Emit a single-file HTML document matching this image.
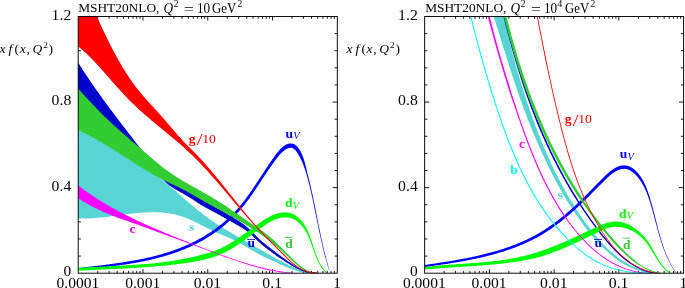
<!DOCTYPE html>
<html><head><meta charset="utf-8"><title>MSHT20NLO PDFs</title>
<style>
html,body{margin:0;padding:0;background:#fff;}
body{width:685px;height:288px;overflow:hidden;}
svg{display:block;font-family:"Liberation Serif",serif;will-change:transform;}
</style></head><body>
<svg width="685" height="288" viewBox="0 0 685 288">
<rect width="685" height="288" fill="#fff"/>
<defs>
<clipPath id="c1"><rect x="78.20" y="16.50" width="259.10" height="256.70"/></clipPath>
<clipPath id="c2"><rect x="424.65" y="16.50" width="258.95" height="256.70"/></clipPath>
</defs>
<path d="M97.70 16.50v2.3M97.70 273.20v-2.3M109.11 16.50v2.3M109.11 273.20v-2.3M117.20 16.50v2.3M117.20 273.20v-2.3M123.48 16.50v2.3M123.48 273.20v-2.3M128.60 16.50v2.3M128.60 273.20v-2.3M132.94 16.50v2.3M132.94 273.20v-2.3M136.70 16.50v2.3M136.70 273.20v-2.3M140.01 16.50v2.3M140.01 273.20v-2.3M142.98 16.50v4.0M142.98 273.20v-4.0M162.47 16.50v2.3M162.47 273.20v-2.3M173.88 16.50v2.3M173.88 273.20v-2.3M181.97 16.50v2.3M181.97 273.20v-2.3M188.25 16.50v2.3M188.25 273.20v-2.3M193.38 16.50v2.3M193.38 273.20v-2.3M197.72 16.50v2.3M197.72 273.20v-2.3M201.47 16.50v2.3M201.47 273.20v-2.3M204.79 16.50v2.3M204.79 273.20v-2.3M207.75 16.50v4.0M207.75 273.20v-4.0M227.25 16.50v2.3M227.25 273.20v-2.3M238.66 16.50v2.3M238.66 273.20v-2.3M246.75 16.50v2.3M246.75 273.20v-2.3M253.03 16.50v2.3M253.03 273.20v-2.3M258.15 16.50v2.3M258.15 273.20v-2.3M262.49 16.50v2.3M262.49 273.20v-2.3M266.25 16.50v2.3M266.25 273.20v-2.3M269.56 16.50v2.3M269.56 273.20v-2.3M272.53 16.50v4.0M272.53 273.20v-4.0M292.02 16.50v2.3M292.02 273.20v-2.3M303.43 16.50v2.3M303.43 273.20v-2.3M311.52 16.50v2.3M311.52 273.20v-2.3M317.80 16.50v2.3M317.80 273.20v-2.3M322.93 16.50v2.3M322.93 273.20v-2.3M327.27 16.50v2.3M327.27 273.20v-2.3M331.02 16.50v2.3M331.02 273.20v-2.3M334.34 16.50v2.3M334.34 273.20v-2.3M78.20 256.09h2.7M337.30 256.09h-2.7M78.20 238.97h2.7M337.30 238.97h-2.7M78.20 221.86h2.7M337.30 221.86h-2.7M78.20 204.75h2.7M337.30 204.75h-2.7M78.20 187.63h4.6M337.30 187.63h-4.6M78.20 170.52h2.7M337.30 170.52h-2.7M78.20 153.41h2.7M337.30 153.41h-2.7M78.20 136.29h2.7M337.30 136.29h-2.7M78.20 119.18h2.7M337.30 119.18h-2.7M78.20 102.07h4.6M337.30 102.07h-4.6M78.20 84.95h2.7M337.30 84.95h-2.7M78.20 67.84h2.7M337.30 67.84h-2.7M78.20 50.73h2.7M337.30 50.73h-2.7M78.20 33.61h2.7M337.30 33.61h-2.7" stroke="#000" stroke-width="0.9" fill="none"/>
<path d="M444.14 16.50v2.3M444.14 273.20v-2.3M455.54 16.50v2.3M455.54 273.20v-2.3M463.63 16.50v2.3M463.63 273.20v-2.3M469.90 16.50v2.3M469.90 273.20v-2.3M475.03 16.50v2.3M475.03 273.20v-2.3M479.36 16.50v2.3M479.36 273.20v-2.3M483.11 16.50v2.3M483.11 273.20v-2.3M486.43 16.50v2.3M486.43 273.20v-2.3M489.39 16.50v4.0M489.39 273.20v-4.0M508.88 16.50v2.3M508.88 273.20v-2.3M520.28 16.50v2.3M520.28 273.20v-2.3M528.36 16.50v2.3M528.36 273.20v-2.3M534.64 16.50v2.3M534.64 273.20v-2.3M539.76 16.50v2.3M539.76 273.20v-2.3M544.10 16.50v2.3M544.10 273.20v-2.3M547.85 16.50v2.3M547.85 273.20v-2.3M551.16 16.50v2.3M551.16 273.20v-2.3M554.12 16.50v4.0M554.12 273.20v-4.0M573.61 16.50v2.3M573.61 273.20v-2.3M585.01 16.50v2.3M585.01 273.20v-2.3M593.10 16.50v2.3M593.10 273.20v-2.3M599.37 16.50v2.3M599.37 273.20v-2.3M604.50 16.50v2.3M604.50 273.20v-2.3M608.83 16.50v2.3M608.83 273.20v-2.3M612.59 16.50v2.3M612.59 273.20v-2.3M615.90 16.50v2.3M615.90 273.20v-2.3M618.86 16.50v4.0M618.86 273.20v-4.0M638.35 16.50v2.3M638.35 273.20v-2.3M649.75 16.50v2.3M649.75 273.20v-2.3M657.84 16.50v2.3M657.84 273.20v-2.3M664.11 16.50v2.3M664.11 273.20v-2.3M669.24 16.50v2.3M669.24 273.20v-2.3M673.57 16.50v2.3M673.57 273.20v-2.3M677.33 16.50v2.3M677.33 273.20v-2.3M680.64 16.50v2.3M680.64 273.20v-2.3M424.65 256.09h2.7M683.60 256.09h-2.7M424.65 238.97h2.7M683.60 238.97h-2.7M424.65 221.86h2.7M683.60 221.86h-2.7M424.65 204.75h2.7M683.60 204.75h-2.7M424.65 187.63h4.6M683.60 187.63h-4.6M424.65 170.52h2.7M683.60 170.52h-2.7M424.65 153.41h2.7M683.60 153.41h-2.7M424.65 136.29h2.7M683.60 136.29h-2.7M424.65 119.18h2.7M683.60 119.18h-2.7M424.65 102.07h4.6M683.60 102.07h-4.6M424.65 84.95h2.7M683.60 84.95h-2.7M424.65 67.84h2.7M683.60 67.84h-2.7M424.65 50.73h2.7M683.60 50.73h-2.7M424.65 33.61h2.7M683.60 33.61h-2.7" stroke="#000" stroke-width="0.9" fill="none"/>
<g clip-path="url(#c1)">
<polygon fill="#59d4d4" points="78.0,125.0 79.5,125.7 81.0,126.4 82.5,127.1 84.0,127.8 85.5,128.6 87.0,129.3 88.5,130.1 90.0,130.9 91.5,131.7 93.0,132.5 94.5,133.3 96.0,134.2 97.5,135.0 99.0,135.9 100.5,136.8 102.0,137.7 103.5,138.6 105.0,139.5 106.5,140.4 108.0,141.3 109.5,142.2 111.0,143.1 112.5,144.1 114.0,145.0 115.5,146.0 117.0,146.9 118.5,147.9 120.0,148.8 121.5,149.8 123.0,150.7 124.5,151.7 126.0,152.6 127.5,153.6 129.0,154.5 130.5,155.5 132.0,156.4 133.5,157.4 135.0,158.4 136.5,159.4 138.0,160.4 139.5,161.4 141.0,162.5 142.5,163.6 144.0,164.7 145.5,165.8 147.0,167.0 148.5,168.2 150.0,169.4 151.5,170.7 153.0,171.9 154.5,173.2 156.0,174.5 157.5,175.7 159.0,177.0 160.5,178.3 162.0,179.6 163.5,180.8 165.0,182.1 166.5,183.4 168.0,184.6 169.5,185.9 171.0,187.2 172.5,188.5 174.0,189.8 175.5,191.1 177.0,192.4 178.5,193.7 180.0,195.0 181.5,196.3 183.0,197.6 184.5,198.9 186.0,200.2 187.5,201.5 189.0,202.8 190.5,204.0 192.0,205.3 193.5,206.6 195.0,207.8 196.5,209.0 198.0,210.2 199.5,211.4 201.0,212.6 202.5,213.8 204.0,214.9 205.5,216.0 207.0,217.1 208.5,218.2 210.0,219.3 211.5,220.3 213.0,221.3 214.5,222.4 216.0,223.4 217.5,224.4 219.0,225.4 220.5,226.3 222.0,227.3 223.5,228.2 225.0,229.2 226.5,230.1 228.0,231.0 229.5,231.9 231.0,232.8 232.5,233.7 234.0,234.6 235.5,235.5 237.0,236.3 238.5,237.2 240.0,238.1 241.5,238.9 243.0,239.8 244.5,240.6 246.0,241.5 247.5,242.3 249.0,243.2 250.5,244.0 252.0,244.8 253.5,245.7 255.0,246.5 256.5,247.4 258.0,248.2 259.5,249.1 261.0,249.9 262.5,250.8 264.0,251.6 265.5,252.5 267.0,253.3 268.5,254.2 270.0,255.0 271.5,255.9 273.0,256.7 274.5,257.6 276.0,258.4 277.5,259.2 279.0,260.0 280.5,260.8 282.0,261.6 283.5,262.4 285.0,263.2 286.5,263.9 288.0,264.7 289.5,265.4 291.0,266.1 292.5,266.8 294.0,267.5 295.5,268.1 297.0,268.8 298.5,269.4 300.0,270.0 301.5,270.6 303.0,271.1 304.5,271.6 306.0,272.1 307.5,272.6 308.3,272.9 308.3,273.2 307.5,273.2 306.0,273.0 304.5,272.8 303.0,272.6 301.5,272.3 300.0,271.9 298.5,271.5 297.0,271.1 295.5,270.6 294.0,270.1 292.5,269.5 291.0,268.9 289.5,268.3 288.0,267.7 286.5,267.1 285.0,266.4 283.5,265.7 282.0,265.1 280.5,264.4 279.0,263.7 277.5,263.0 276.0,262.3 274.5,261.6 273.0,260.9 271.5,260.2 270.0,259.5 268.5,258.9 267.0,258.2 265.5,257.5 264.0,256.7 262.5,256.0 261.0,255.2 259.5,254.5 258.0,253.7 256.5,252.8 255.0,252.0 253.5,251.1 252.0,250.3 250.5,249.4 249.0,248.5 247.5,247.6 246.0,246.7 244.5,245.9 243.0,245.0 241.5,244.1 240.0,243.3 238.5,242.5 237.0,241.7 235.5,240.9 234.0,240.1 232.5,239.4 231.0,238.7 229.5,238.0 228.0,237.3 226.5,236.7 225.0,236.0 223.5,235.4 222.0,234.8 220.5,234.2 219.0,233.5 217.5,232.9 216.0,232.2 214.5,231.6 213.0,230.9 211.5,230.2 210.0,229.5 208.5,228.7 207.0,228.0 205.5,227.2 204.0,226.4 202.5,225.7 201.0,224.9 199.5,224.1 198.0,223.4 196.5,222.6 195.0,221.9 193.5,221.1 192.0,220.4 190.5,219.7 189.0,219.1 187.5,218.5 186.0,217.9 184.5,217.3 183.0,216.8 181.5,216.3 180.0,215.8 178.5,215.4 177.0,215.0 175.5,214.6 174.0,214.3 172.5,214.0 171.0,213.7 169.5,213.5 168.0,213.2 166.5,213.0 165.0,212.8 163.5,212.7 162.0,212.6 160.5,212.4 159.0,212.4 157.5,212.3 156.0,212.2 154.5,212.2 153.0,212.2 151.5,212.2 150.0,212.2 148.5,212.3 147.0,212.3 145.5,212.4 144.0,212.5 142.5,212.6 141.0,212.7 139.5,212.8 138.0,212.9 136.5,213.1 135.0,213.2 133.5,213.4 132.0,213.6 130.5,213.7 129.0,213.9 127.5,214.1 126.0,214.3 124.5,214.5 123.0,214.7 121.5,214.9 120.0,215.1 118.5,215.3 117.0,215.5 115.5,215.7 114.0,215.9 112.5,216.1 111.0,216.3 109.5,216.5 108.0,216.7 106.5,216.9 105.0,217.1 103.5,217.2 102.0,217.4 100.5,217.6 99.0,217.7 97.5,217.8 96.0,218.0 94.5,218.1 93.0,218.2 91.5,218.3 90.0,218.4 88.5,218.4 87.0,218.5 85.5,218.5 84.0,218.5 82.5,218.5 81.0,218.5 79.5,218.5 78.0,218.4"/>
<polygon fill="#0000ff" points="78.1,269.8 79.1,269.7 80.1,269.6 81.1,269.5 82.1,269.4 83.1,269.3 84.0,269.2 85.0,269.1 86.0,269.0 87.0,268.9 88.0,268.8 89.0,268.7 90.0,268.6 91.0,268.5 92.0,268.4 93.0,268.3 93.9,268.2 94.9,268.1 95.9,268.0 96.9,267.9 97.9,267.8 98.9,267.7 99.9,267.6 100.9,267.5 101.9,267.4 102.9,267.3 103.9,267.2 104.9,267.1 105.9,267.0 106.9,266.8 107.9,266.7 108.9,266.6 109.9,266.5 110.9,266.4 111.9,266.2 112.9,266.1 113.9,266.0 114.9,265.9 115.9,265.8 116.9,265.6 117.9,265.5 118.9,265.4 119.9,265.2 120.9,265.1 121.9,264.9 122.9,264.8 123.9,264.7 124.9,264.5 125.9,264.4 126.9,264.2 127.8,264.1 128.8,263.9 129.8,263.7 130.8,263.6 131.8,263.4 132.8,263.2 133.8,263.1 134.8,262.9 135.8,262.7 136.8,262.5 137.8,262.4 138.8,262.2 139.8,262.0 140.8,261.8 141.7,261.6 142.7,261.4 143.7,261.2 144.7,261.0 145.7,260.8 146.7,260.6 147.7,260.4 148.6,260.2 149.6,259.9 150.6,259.7 151.6,259.5 152.6,259.3 153.5,259.0 154.5,258.8 155.5,258.5 156.5,258.3 157.4,258.1 158.4,257.8 159.4,257.5 160.3,257.3 161.3,257.0 162.3,256.8 163.2,256.5 164.2,256.2 165.2,255.9 166.1,255.6 167.1,255.4 168.0,255.1 169.0,254.8 170.0,254.5 170.9,254.2 171.9,253.8 172.8,253.5 173.8,253.2 174.7,252.9 175.6,252.5 176.6,252.2 177.5,251.9 178.5,251.5 179.4,251.2 180.3,250.8 181.3,250.5 182.2,250.1 183.1,249.7 184.1,249.4 185.0,249.0 185.9,248.6 186.8,248.2 187.8,247.8 188.7,247.4 189.6,247.0 190.5,246.6 191.4,246.2 192.3,245.8 193.3,245.3 194.2,244.9 195.1,244.5 196.0,244.0 196.9,243.5 197.8,243.1 198.6,242.6 199.5,242.1 200.4,241.7 201.3,241.2 202.2,240.7 203.1,240.2 203.9,239.7 204.8,239.2 205.7,238.7 206.6,238.1 207.4,237.6 208.3,237.1 209.1,236.5 210.0,236.0 210.9,235.4 211.7,234.9 212.6,234.3 213.4,233.7 214.2,233.1 215.1,232.6 215.9,232.0 216.7,231.4 217.6,230.8 218.4,230.2 219.2,229.6 220.0,228.9 220.8,228.3 221.6,227.7 222.4,227.0 223.2,226.4 224.0,225.8 224.8,225.1 225.6,224.4 226.3,223.8 227.1,223.1 227.9,222.4 228.6,221.7 229.4,221.1 230.1,220.4 230.8,219.7 231.6,219.0 232.3,218.3 233.0,217.6 233.7,216.9 234.5,216.2 235.2,215.4 235.9,214.7 236.6,214.0 237.2,213.3 237.9,212.5 238.6,211.8 239.3,211.0 239.9,210.3 240.6,209.5 241.2,208.8 241.8,208.0 242.5,207.3 243.1,206.5 243.7,205.7 244.3,205.0 244.9,204.2 245.5,203.4 246.1,202.6 246.7,201.8 247.3,201.0 247.9,200.3 248.5,199.5 249.1,198.7 249.7,197.9 250.2,197.1 250.8,196.3 251.4,195.5 252.0,194.7 252.5,193.9 253.1,193.0 253.6,192.2 254.2,191.4 254.8,190.6 255.3,189.8 255.9,188.9 256.4,188.1 257.0,187.3 257.5,186.5 258.1,185.6 258.6,184.8 259.2,184.0 259.7,183.1 260.3,182.3 260.8,181.5 261.4,180.6 261.9,179.8 262.5,178.9 263.0,178.1 263.6,177.3 264.1,176.4 264.7,175.6 265.3,174.7 265.8,173.9 266.4,173.0 267.0,172.2 267.5,171.3 268.1,170.5 268.7,169.6 269.3,168.8 269.9,167.9 270.4,167.1 271.0,166.2 271.6,165.4 272.2,164.5 272.9,163.7 273.5,162.8 274.1,162.0 274.7,161.1 275.3,160.3 276.0,159.4 276.6,158.6 277.3,157.8 277.9,156.9 278.6,156.1 279.2,155.3 279.9,154.6 280.6,153.8 281.3,153.1 282.0,152.4 282.7,151.8 283.4,151.2 284.1,150.6 284.8,150.1 285.5,149.6 286.2,149.2 286.9,148.8 287.6,148.5 288.2,148.2 288.9,148.0 289.5,147.9 290.1,147.8 290.7,147.8 291.2,147.8 291.7,147.8 292.2,148.0 292.8,148.2 293.3,148.5 293.9,148.9 294.5,149.4 295.1,150.0 295.8,150.6 296.4,151.4 296.9,152.2 297.5,153.1 298.1,154.0 298.6,154.9 299.1,155.8 299.6,156.7 300.1,157.7 300.6,158.6 301.0,159.5 301.5,160.4 301.9,161.4 302.3,162.3 302.7,163.2 303.0,164.1 303.4,165.1 303.7,166.0 304.1,166.9 304.4,167.9 304.7,168.8 305.0,169.7 305.4,170.7 305.7,171.6 306.0,172.6 306.3,173.5 306.6,174.5 306.8,175.4 307.1,176.4 307.4,177.3 307.6,178.3 307.9,179.2 308.1,180.2 308.4,181.2 308.6,182.1 308.9,183.1 309.1,184.1 309.4,185.0 309.6,186.0 309.8,187.0 310.1,187.9 310.3,188.9 310.5,189.9 310.7,190.8 311.0,191.8 311.2,192.8 311.4,193.8 311.6,194.7 311.8,195.7 312.1,196.7 312.3,197.6 312.5,198.6 312.7,199.6 312.9,200.6 313.1,201.5 313.3,202.5 313.5,203.5 313.7,204.5 313.9,205.5 314.1,206.4 314.3,207.4 314.5,208.4 314.7,209.4 314.9,210.4 315.1,211.3 315.3,212.3 315.5,213.3 315.7,214.3 315.9,215.3 316.1,216.2 316.3,217.2 316.5,218.2 316.7,219.2 316.9,220.2 317.1,221.1 317.3,222.1 317.5,223.1 317.7,224.1 317.9,225.1 318.1,226.0 318.3,227.0 318.5,228.0 318.7,229.0 318.9,230.0 319.1,230.9 319.3,231.9 319.6,232.9 319.8,233.9 320.0,234.9 320.2,235.8 320.4,236.8 320.6,237.8 320.8,238.8 321.0,239.7 321.3,240.7 321.5,241.7 321.7,242.7 321.9,243.6 322.2,244.6 322.4,245.6 322.6,246.6 322.8,247.5 323.1,248.5 323.3,249.5 323.6,250.5 323.8,251.4 324.0,252.4 324.3,253.4 324.5,254.3 324.8,255.3 325.0,256.3 325.3,257.2 325.6,258.2 325.8,259.2 326.1,260.1 326.4,261.1 326.6,262.0 326.9,263.0 327.2,264.0 327.5,264.9 327.8,265.9 328.1,266.8 328.4,267.8 328.7,268.7 329.0,269.7 329.1,270.1 329.4,270.0 329.3,269.6 329.0,268.6 328.7,267.7 328.5,266.7 328.2,265.8 327.9,264.8 327.6,263.8 327.4,262.9 327.1,261.9 326.8,261.0 326.6,260.0 326.3,259.0 326.1,258.1 325.8,257.1 325.6,256.1 325.3,255.2 325.1,254.2 324.8,253.2 324.6,252.3 324.3,251.3 324.1,250.3 323.9,249.3 323.6,248.4 323.4,247.4 323.2,246.4 323.0,245.5 322.7,244.5 322.5,243.5 322.3,242.5 322.1,241.6 321.9,240.6 321.6,239.6 321.4,238.6 321.2,237.7 321.0,236.7 320.8,235.7 320.6,234.7 320.4,233.7 320.2,232.8 320.0,231.8 319.8,230.8 319.6,229.8 319.4,228.8 319.2,227.9 319.0,226.9 318.8,225.9 318.6,224.9 318.4,223.9 318.2,223.0 318.0,222.0 317.8,221.0 317.6,220.0 317.4,219.0 317.2,218.1 317.0,217.1 316.8,216.1 316.6,215.1 316.5,214.1 316.3,213.1 316.1,212.2 315.9,211.2 315.7,210.2 315.5,209.2 315.3,208.2 315.1,207.3 314.9,206.3 314.7,205.3 314.5,204.3 314.3,203.3 314.1,202.4 313.9,201.4 313.7,200.4 313.5,199.4 313.3,198.5 313.1,197.5 312.9,196.5 312.7,195.5 312.5,194.5 312.3,193.6 312.0,192.6 311.8,191.6 311.6,190.6 311.4,189.7 311.2,188.7 311.0,187.7 310.7,186.7 310.5,185.8 310.3,184.8 310.1,183.8 309.8,182.9 309.6,181.9 309.4,180.9 309.1,180.0 308.9,179.0 308.6,178.0 308.4,177.1 308.2,176.1 307.9,175.1 307.7,174.2 307.4,173.2 307.2,172.2 307.0,171.2 306.7,170.3 306.5,169.3 306.3,168.3 306.0,167.4 305.8,166.4 305.5,165.4 305.3,164.5 305.0,163.5 304.8,162.5 304.5,161.5 304.2,160.5 303.9,159.5 303.5,158.5 303.2,157.5 302.8,156.5 302.4,155.5 302.0,154.4 301.5,153.4 301.0,152.4 300.5,151.3 299.9,150.3 299.3,149.3 298.6,148.4 298.0,147.5 297.3,146.7 296.5,145.9 295.7,145.2 294.8,144.5 293.8,144.0 292.7,143.7 291.7,143.5 290.6,143.4 289.6,143.5 288.6,143.7 287.6,144.0 286.7,144.3 285.8,144.8 284.9,145.3 284.0,145.9 283.2,146.5 282.4,147.1 281.7,147.8 280.9,148.5 280.2,149.3 279.5,150.0 278.8,150.8 278.1,151.6 277.4,152.5 276.7,153.3 276.1,154.2 275.4,155.0 274.8,155.9 274.2,156.8 273.5,157.7 272.9,158.5 272.3,159.4 271.7,160.3 271.1,161.2 270.5,162.0 269.9,162.9 269.3,163.8 268.7,164.6 268.1,165.5 267.5,166.4 267.0,167.2 266.4,168.1 265.8,168.9 265.2,169.8 264.7,170.7 264.1,171.5 263.6,172.4 263.0,173.2 262.4,174.1 261.9,174.9 261.3,175.8 260.8,176.6 260.2,177.5 259.7,178.3 259.1,179.1 258.6,180.0 258.0,180.8 257.5,181.7 256.9,182.5 256.4,183.3 255.8,184.2 255.3,185.0 254.7,185.8 254.2,186.6 253.6,187.4 253.1,188.3 252.5,189.1 252.0,189.9 251.4,190.7 250.9,191.5 250.3,192.3 249.7,193.1 249.2,193.9 248.6,194.7 248.1,195.5 247.5,196.3 246.9,197.1 246.3,197.9 245.8,198.6 245.2,199.4 244.6,200.2 244.0,201.0 243.4,201.7 242.8,202.5 242.2,203.3 241.6,204.0 241.0,204.8 240.3,205.5 239.7,206.2 239.1,207.0 238.5,207.7 237.8,208.5 237.2,209.2 236.5,209.9 235.9,210.6 235.2,211.4 234.5,212.1 233.8,212.8 233.2,213.5 232.5,214.2 231.8,214.9 231.1,215.6 230.4,216.3 229.6,217.0 228.9,217.6 228.2,218.3 227.5,219.0 226.7,219.6 226.0,220.3 225.2,221.0 224.5,221.6 223.7,222.2 222.9,222.9 222.2,223.5 221.4,224.2 220.6,224.8 219.8,225.4 219.0,226.0 218.2,226.6 217.4,227.2 216.6,227.8 215.8,228.4 215.0,229.0 214.2,229.6 213.4,230.2 212.6,230.8 211.8,231.3 210.9,231.9 210.1,232.5 209.3,233.0 208.4,233.5 207.6,234.1 206.7,234.6 205.9,235.1 205.1,235.7 204.2,236.2 203.3,236.7 202.5,237.2 201.6,237.7 200.8,238.2 199.9,238.6 199.0,239.1 198.2,239.6 197.3,240.1 196.4,240.5 195.5,241.0 194.7,241.4 193.8,241.9 192.9,242.3 192.0,242.7 191.1,243.1 190.2,243.6 189.3,244.0 188.4,244.4 187.5,244.8 186.6,245.2 185.7,245.6 184.8,246.0 183.9,246.4 183.0,246.8 182.1,247.1 181.2,247.5 180.3,247.9 179.3,248.2 178.4,248.6 177.5,248.9 176.6,249.3 175.7,249.6 174.7,249.9 173.8,250.3 172.9,250.6 171.9,250.9 171.0,251.2 170.1,251.5 169.1,251.9 168.2,252.2 167.2,252.5 166.3,252.8 165.3,253.0 164.4,253.3 163.4,253.6 162.5,253.9 161.5,254.2 160.6,254.4 159.6,254.7 158.7,255.0 157.7,255.2 156.8,255.5 155.8,255.7 154.8,256.0 153.9,256.2 152.9,256.5 151.9,256.7 151.0,256.9 150.0,257.2 149.0,257.4 148.1,257.6 147.1,257.8 146.1,258.0 145.1,258.3 144.2,258.5 143.2,258.7 142.2,258.9 141.2,259.1 140.3,259.3 139.3,259.5 138.3,259.7 137.3,259.8 136.3,260.0 135.3,260.2 134.4,260.4 133.4,260.6 132.4,260.7 131.4,260.9 130.4,261.1 129.4,261.3 128.4,261.4 127.5,261.6 126.5,261.7 125.5,261.9 124.5,262.1 123.5,262.2 122.5,262.4 121.5,262.5 120.5,262.7 119.5,262.8 118.5,263.0 117.5,263.1 116.6,263.3 115.6,263.4 114.6,263.6 113.6,263.7 112.6,263.8 111.6,264.0 110.6,264.1 109.6,264.3 108.6,264.4 107.6,264.5 106.6,264.6 105.6,264.8 104.6,264.9 103.6,265.0 102.6,265.2 101.7,265.3 100.7,265.4 99.7,265.5 98.7,265.6 97.7,265.8 96.7,265.9 95.7,266.0 94.7,266.1 93.7,266.2 92.7,266.3 91.7,266.5 90.8,266.6 89.8,266.7 88.8,266.8 87.8,266.9 86.8,267.0 85.8,267.1 84.8,267.3 83.8,267.4 82.9,267.5 81.9,267.6 80.9,267.7 79.9,267.8 78.9,267.9 78.0,268.0"/>
<polygon fill="#0000cd" points="78.0,62.4 79.5,64.8 81.0,67.1 82.5,69.4 84.0,71.7 85.5,74.0 87.0,76.3 88.5,78.5 90.0,80.7 91.5,82.9 93.0,85.1 94.5,87.3 96.0,89.4 97.5,91.5 99.0,93.6 100.5,95.7 102.0,97.8 103.5,99.9 105.0,101.9 106.5,104.0 108.0,106.0 109.5,108.1 111.0,110.1 112.5,112.1 114.0,114.1 115.5,116.1 117.0,118.0 118.5,120.0 120.0,122.0 121.5,123.9 123.0,125.9 124.5,127.8 126.0,129.8 127.5,131.7 129.0,133.7 130.5,135.6 132.0,137.6 133.5,139.5 135.0,141.4 136.5,143.4 138.0,145.3 139.5,147.2 141.0,149.0 142.5,150.9 144.0,152.7 145.5,154.5 147.0,156.3 148.5,158.0 150.0,159.7 151.5,161.4 153.0,163.0 154.5,164.6 156.0,166.1 157.5,167.6 159.0,169.0 160.5,170.4 162.0,171.7 163.5,172.9 165.0,174.1 166.5,175.2 168.0,176.3 169.5,177.4 171.0,178.4 172.5,179.3 174.0,180.3 175.5,181.2 177.0,182.1 178.5,183.0 180.0,183.9 181.5,184.7 183.0,185.6 184.5,186.4 186.0,187.3 187.5,188.2 189.0,189.1 190.5,190.0 192.0,191.0 193.5,191.9 195.0,192.9 196.5,193.8 198.0,194.8 199.5,195.8 201.0,196.8 202.5,197.8 204.0,198.8 205.5,199.8 207.0,200.8 208.5,201.8 210.0,202.8 211.5,203.8 213.0,204.8 214.5,205.8 216.0,206.8 217.5,207.8 219.0,208.8 220.5,209.7 222.0,210.7 223.5,211.7 225.0,212.6 226.5,213.5 228.0,214.5 229.5,215.4 231.0,216.3 232.5,217.1 234.0,218.0 235.5,218.9 237.0,219.8 238.5,220.7 240.0,221.7 241.5,222.7 243.0,223.7 244.5,224.9 246.0,226.1 247.5,227.4 249.0,228.8 250.5,230.2 252.0,231.7 253.5,233.2 255.0,234.7 256.5,236.2 258.0,237.7 259.5,239.2 261.0,240.5 262.5,241.9 264.0,243.1 265.5,244.3 267.0,245.5 268.5,246.7 270.0,247.8 271.5,248.9 273.0,250.1 274.5,251.2 276.0,252.4 277.5,253.5 279.0,254.7 280.5,255.8 282.0,256.9 283.5,258.0 285.0,259.1 286.5,260.2 288.0,261.3 289.5,262.3 291.0,263.3 292.5,264.3 294.0,265.2 295.5,266.1 297.0,267.0 298.5,267.8 300.0,268.5 301.5,269.2 303.0,269.9 304.5,270.5 306.0,271.0 307.5,271.5 309.0,271.9 310.5,272.2 312.0,272.5 313.5,272.6 315.0,272.7 316.5,272.8 318.0,272.7 318.0,273.5 316.5,273.6 315.0,273.7 313.5,273.7 312.0,273.5 310.5,273.3 309.0,273.1 307.5,272.7 306.0,272.3 304.5,271.8 303.0,271.3 301.5,270.7 300.0,270.0 298.5,269.3 297.0,268.6 295.5,267.8 294.0,266.9 292.5,266.1 291.0,265.2 289.5,264.3 288.0,263.3 286.5,262.4 285.0,261.4 283.5,260.4 282.0,259.4 280.5,258.4 279.0,257.4 277.5,256.4 276.0,255.4 274.5,254.3 273.0,253.3 271.5,252.2 270.0,251.1 268.5,250.0 267.0,248.8 265.5,247.7 264.0,246.4 262.5,245.2 261.0,243.9 259.5,242.6 258.0,241.2 256.5,239.8 255.0,238.4 253.5,237.0 252.0,235.6 250.5,234.2 249.0,233.0 247.5,231.7 246.0,230.6 244.5,229.5 243.0,228.5 241.5,227.6 240.0,226.7 238.5,225.8 237.0,224.9 235.5,224.0 234.0,223.2 232.5,222.3 231.0,221.5 229.5,220.6 228.0,219.8 226.5,218.9 225.0,218.1 223.5,217.2 222.0,216.4 220.5,215.6 219.0,214.7 217.5,213.9 216.0,213.1 214.5,212.3 213.0,211.5 211.5,210.7 210.0,209.9 208.5,209.1 207.0,208.3 205.5,207.5 204.0,206.6 202.5,205.8 201.0,204.9 199.5,204.0 198.0,203.1 196.5,202.1 195.0,201.1 193.5,200.1 192.0,199.1 190.5,198.1 189.0,197.2 187.5,196.3 186.0,195.4 184.5,194.5 183.0,193.6 181.5,192.8 180.0,192.0 178.5,191.1 177.0,190.3 175.5,189.4 174.0,188.5 172.5,187.5 171.0,186.5 169.5,185.4 168.0,184.2 166.5,183.0 165.0,181.6 163.5,180.2 162.0,178.7 160.5,177.1 159.0,175.5 157.5,173.9 156.0,172.4 154.5,170.8 153.0,169.3 151.5,167.8 150.0,166.4 148.5,165.0 147.0,163.6 145.5,162.2 144.0,160.9 142.5,159.7 141.0,158.4 139.5,157.2 138.0,156.0 136.5,154.8 135.0,153.6 133.5,152.5 132.0,151.4 130.5,150.3 129.0,149.2 127.5,148.1 126.0,147.1 124.5,146.0 123.0,145.0 121.5,143.9 120.0,142.9 118.5,141.9 117.0,140.9 115.5,139.9 114.0,138.8 112.5,137.8 111.0,136.8 109.5,135.7 108.0,134.7 106.5,133.7 105.0,132.6 103.5,131.4 102.0,130.2 100.5,129.1 99.0,127.9 97.5,126.7 96.0,125.5 94.5,124.3 93.0,123.1 91.5,121.9 90.0,120.7 88.5,119.5 87.0,118.3 85.5,117.1 84.0,115.8 82.5,114.4 81.0,113.0 79.5,111.5 78.0,110.0"/>
<polygon fill="#00ff00" points="78.2,270.8 79.2,270.7 80.2,270.7 81.1,270.6 82.1,270.5 83.1,270.5 84.1,270.4 85.0,270.4 86.0,270.3 87.0,270.3 88.0,270.2 89.0,270.2 90.0,270.1 90.9,270.1 91.9,270.0 92.9,270.0 93.9,269.9 94.9,269.9 95.9,269.8 96.9,269.8 97.9,269.7 98.8,269.7 99.8,269.6 100.8,269.6 101.8,269.6 102.8,269.5 103.8,269.5 104.8,269.4 105.8,269.4 106.8,269.3 107.8,269.3 108.8,269.2 109.8,269.2 110.8,269.2 111.8,269.1 112.8,269.1 113.8,269.0 114.8,269.0 115.8,268.9 116.9,268.9 117.9,268.8 118.9,268.8 119.9,268.7 120.9,268.7 121.9,268.6 122.9,268.6 123.9,268.5 124.9,268.5 125.9,268.4 126.9,268.4 127.9,268.3 129.0,268.3 130.0,268.2 131.0,268.1 132.0,268.1 133.0,268.0 134.0,268.0 135.0,267.9 136.0,267.8 137.0,267.8 138.0,267.7 139.1,267.6 140.1,267.6 141.1,267.5 142.1,267.4 143.1,267.3 144.1,267.3 145.1,267.2 146.1,267.1 147.1,267.0 148.2,267.0 149.2,266.9 150.2,266.8 151.2,266.7 152.2,266.7 153.2,266.6 154.2,266.5 155.2,266.4 156.2,266.3 157.2,266.2 158.2,266.1 159.2,266.0 160.3,266.0 161.3,265.9 162.3,265.8 163.3,265.7 164.3,265.6 165.3,265.5 166.3,265.4 167.3,265.3 168.3,265.2 169.3,265.1 170.3,265.0 171.3,264.8 172.3,264.7 173.3,264.6 174.3,264.5 175.3,264.4 176.3,264.3 177.3,264.2 178.3,264.1 179.3,263.9 180.3,263.8 181.3,263.7 182.3,263.5 183.3,263.4 184.2,263.3 185.2,263.1 186.2,263.0 187.2,262.8 188.2,262.7 189.2,262.5 190.2,262.4 191.2,262.2 192.1,262.0 193.1,261.9 194.1,261.7 195.1,261.5 196.1,261.3 197.0,261.1 198.0,260.9 199.0,260.8 200.0,260.6 200.9,260.3 201.9,260.1 202.9,259.9 203.8,259.7 204.8,259.5 205.8,259.2 206.7,259.0 207.7,258.8 208.7,258.5 209.6,258.2 210.6,258.0 211.6,257.7 212.5,257.4 213.5,257.1 214.4,256.8 215.4,256.4 216.3,256.1 217.3,255.7 218.2,255.4 219.2,255.0 220.1,254.6 221.1,254.2 222.0,253.8 222.9,253.4 223.9,252.9 224.8,252.5 225.7,252.0 226.6,251.5 227.5,251.0 228.4,250.5 229.3,250.0 230.2,249.5 231.1,248.9 232.0,248.4 232.9,247.9 233.8,247.3 234.6,246.8 235.5,246.2 236.4,245.6 237.2,245.1 238.1,244.5 238.9,243.9 239.8,243.4 240.6,242.8 241.5,242.2 242.3,241.6 243.1,241.0 244.0,240.4 244.8,239.9 245.6,239.3 246.5,238.7 247.3,238.1 248.1,237.5 248.9,236.9 249.7,236.3 250.6,235.7 251.4,235.1 252.2,234.5 253.0,233.9 253.8,233.3 254.6,232.6 255.4,232.0 256.3,231.4 257.1,230.8 257.9,230.2 258.7,229.6 259.6,229.0 260.4,228.4 261.2,227.8 262.1,227.2 262.9,226.7 263.7,226.1 264.6,225.5 265.4,224.9 266.3,224.4 267.1,223.8 267.9,223.3 268.8,222.8 269.6,222.3 270.5,221.8 271.3,221.3 272.2,220.9 273.1,220.4 273.9,220.0 274.8,219.6 275.6,219.3 276.5,219.0 277.4,218.7 278.2,218.4 279.1,218.2 280.0,217.9 280.8,217.8 281.7,217.6 282.5,217.5 283.4,217.4 284.2,217.4 285.1,217.3 285.9,217.4 286.7,217.4 287.5,217.5 288.3,217.6 289.0,217.7 289.8,217.9 290.6,218.1 291.3,218.3 292.1,218.6 292.9,218.9 293.6,219.3 294.4,219.7 295.2,220.1 295.9,220.6 296.6,221.1 297.4,221.6 298.1,222.2 298.8,222.8 299.5,223.4 300.2,224.1 300.9,224.8 301.5,225.5 302.1,226.2 302.7,227.0 303.3,227.8 303.9,228.6 304.4,229.4 305.0,230.2 305.5,231.1 306.0,231.9 306.5,232.8 307.0,233.7 307.5,234.6 307.9,235.5 308.3,236.4 308.7,237.4 309.1,238.3 309.5,239.3 309.9,240.2 310.3,241.2 310.7,242.2 311.0,243.1 311.4,244.1 311.7,245.1 312.1,246.1 312.4,247.0 312.7,248.0 313.1,249.0 313.4,250.0 313.8,251.0 314.1,251.9 314.5,252.9 314.8,253.9 315.2,254.8 315.5,255.8 315.9,256.7 316.3,257.7 316.7,258.6 317.1,259.5 317.5,260.4 317.9,261.3 318.3,262.2 318.8,263.1 319.2,264.0 319.7,264.8 320.2,265.6 320.7,266.5 321.3,267.3 321.8,268.1 322.4,268.8 323.0,269.6 323.6,270.3 324.3,271.0 325.0,271.7 325.7,272.4 326.4,273.0 326.6,273.2 327.1,272.7 326.9,272.5 326.2,271.8 325.5,271.1 324.9,270.5 324.3,269.8 323.7,269.0 323.1,268.3 322.5,267.6 322.0,266.8 321.5,266.0 321.0,265.2 320.5,264.4 320.0,263.5 319.6,262.7 319.1,261.8 318.7,260.9 318.3,260.0 317.9,259.1 317.5,258.2 317.2,257.3 316.8,256.4 316.4,255.4 316.1,254.5 315.7,253.5 315.4,252.6 315.1,251.6 314.7,250.6 314.4,249.7 314.1,248.7 313.8,247.7 313.4,246.7 313.1,245.7 312.8,244.7 312.5,243.7 312.1,242.7 311.8,241.7 311.5,240.8 311.2,239.8 310.8,238.8 310.5,237.8 310.1,236.8 309.7,235.8 309.4,234.9 309.0,233.9 308.6,232.9 308.2,232.0 307.8,231.0 307.3,230.1 306.9,229.2 306.4,228.2 305.9,227.3 305.4,226.4 304.9,225.5 304.3,224.6 303.7,223.8 303.1,222.9 302.5,222.1 301.8,221.3 301.1,220.5 300.4,219.7 299.7,219.0 299.0,218.2 298.2,217.5 297.4,216.9 296.6,216.2 295.8,215.6 294.9,215.1 294.0,214.5 293.1,214.1 292.1,213.7 291.2,213.3 290.2,213.0 289.2,212.8 288.1,212.6 287.1,212.4 286.1,212.4 285.1,212.3 284.0,212.4 283.0,212.4 282.0,212.5 280.9,212.7 279.9,212.9 278.9,213.1 277.8,213.3 276.8,213.6 275.8,213.9 274.8,214.3 273.8,214.6 272.8,215.0 271.9,215.5 270.9,215.9 269.9,216.4 269.0,216.9 268.0,217.4 267.1,217.9 266.2,218.5 265.3,219.0 264.4,219.6 263.5,220.2 262.6,220.8 261.8,221.4 260.9,222.0 260.0,222.6 259.2,223.2 258.3,223.8 257.5,224.4 256.6,225.0 255.8,225.5 255.0,226.1 254.1,226.7 253.3,227.3 252.5,227.9 251.6,228.5 250.8,229.1 250.0,229.7 249.1,230.3 248.3,230.9 247.5,231.5 246.7,232.1 245.9,232.7 245.0,233.3 244.2,233.8 243.4,234.4 242.6,235.0 241.8,235.6 241.0,236.2 240.1,236.7 239.3,237.3 238.5,237.9 237.7,238.4 236.8,239.0 236.0,239.6 235.2,240.1 234.3,240.6 233.5,241.2 232.7,241.7 231.8,242.3 231.0,242.8 230.1,243.3 229.3,243.8 228.4,244.3 227.5,244.8 226.7,245.3 225.8,245.8 224.9,246.2 224.1,246.7 223.2,247.1 222.3,247.5 221.5,248.0 220.6,248.4 219.7,248.8 218.9,249.2 218.0,249.5 217.1,249.9 216.2,250.2 215.3,250.6 214.4,250.9 213.5,251.2 212.6,251.6 211.7,251.9 210.8,252.1 209.9,252.4 209.0,252.7 208.1,253.0 207.2,253.3 206.3,253.5 205.3,253.8 204.4,254.1 203.5,254.3 202.6,254.6 201.6,254.8 200.7,255.0 199.8,255.3 198.8,255.5 197.9,255.7 196.9,256.0 196.0,256.2 195.0,256.4 194.1,256.6 193.1,256.9 192.2,257.1 191.2,257.3 190.3,257.5 189.3,257.7 188.3,257.9 187.4,258.1 186.4,258.3 185.4,258.5 184.5,258.7 183.5,258.9 182.5,259.1 181.6,259.3 180.6,259.5 179.6,259.6 178.7,259.8 177.7,260.0 176.7,260.2 175.7,260.3 174.7,260.5 173.8,260.7 172.8,260.8 171.8,261.0 170.8,261.1 169.8,261.3 168.8,261.4 167.8,261.6 166.9,261.7 165.9,261.9 164.9,262.0 163.9,262.1 162.9,262.3 161.9,262.4 160.9,262.5 159.9,262.6 158.9,262.7 157.9,262.9 156.9,263.0 155.9,263.1 154.9,263.2 153.9,263.3 152.9,263.4 151.9,263.5 150.9,263.6 149.9,263.7 148.9,263.8 147.9,263.9 146.9,263.9 145.9,264.0 144.9,264.1 143.9,264.2 142.9,264.3 141.9,264.3 140.9,264.4 139.9,264.5 138.8,264.6 137.8,264.6 136.8,264.7 135.8,264.8 134.8,264.8 133.8,264.9 132.8,265.0 131.8,265.0 130.8,265.1 129.8,265.2 128.8,265.2 127.8,265.3 126.8,265.3 125.8,265.4 124.7,265.5 123.7,265.5 122.7,265.6 121.7,265.6 120.7,265.7 119.7,265.7 118.7,265.8 117.7,265.8 116.7,265.9 115.7,265.9 114.7,266.0 113.7,266.1 112.7,266.1 111.7,266.2 110.7,266.2 109.7,266.3 108.7,266.3 107.7,266.4 106.7,266.4 105.7,266.5 104.7,266.5 103.7,266.6 102.7,266.6 101.7,266.7 100.7,266.7 99.7,266.7 98.7,266.8 97.7,266.8 96.7,266.9 95.7,266.9 94.7,267.0 93.8,267.0 92.8,267.1 91.8,267.1 90.8,267.2 89.8,267.2 88.8,267.3 87.8,267.3 86.9,267.4 85.9,267.4 84.9,267.5 83.9,267.5 82.9,267.6 82.0,267.6 81.0,267.7 80.0,267.8 79.0,267.8 78.1,267.9"/>
<polygon fill="#32cd32" points="78.0,88.4 79.5,90.1 81.0,91.8 82.5,93.4 84.0,95.1 85.5,96.7 87.0,98.3 88.5,99.9 90.0,101.5 91.5,103.1 93.0,104.7 94.5,106.3 96.0,107.8 97.5,109.4 99.0,110.9 100.5,112.4 102.0,113.9 103.5,115.4 105.0,116.9 106.5,118.3 108.0,119.8 109.5,121.2 111.0,122.6 112.5,124.0 114.0,125.4 115.5,126.7 117.0,128.1 118.5,129.4 120.0,130.8 121.5,132.1 123.0,133.4 124.5,134.7 126.0,136.0 127.5,137.3 129.0,138.6 130.5,139.9 132.0,141.2 133.5,142.5 135.0,143.8 136.5,145.1 138.0,146.3 139.5,147.6 141.0,148.9 142.5,150.2 144.0,151.5 145.5,152.8 147.0,154.1 148.5,155.4 150.0,156.7 151.5,158.0 153.0,159.3 154.5,160.6 156.0,161.8 157.5,163.1 159.0,164.3 160.5,165.5 162.0,166.7 163.5,167.9 165.0,169.0 166.5,170.1 168.0,171.2 169.5,172.3 171.0,173.3 172.5,174.3 174.0,175.3 175.5,176.3 177.0,177.3 178.5,178.2 180.0,179.1 181.5,180.0 183.0,180.9 184.5,181.8 186.0,182.7 187.5,183.5 189.0,184.4 190.5,185.2 192.0,186.1 193.5,186.9 195.0,187.7 196.5,188.5 198.0,189.4 199.5,190.2 201.0,191.0 202.5,191.9 204.0,192.7 205.5,193.6 207.0,194.4 208.5,195.3 210.0,196.1 211.5,197.0 213.0,197.9 214.5,198.9 216.0,199.8 217.5,200.7 219.0,201.7 220.5,202.7 222.0,203.6 223.5,204.6 225.0,205.6 226.5,206.6 228.0,207.6 229.5,208.6 231.0,209.7 232.5,210.7 234.0,211.7 235.5,212.7 237.0,213.8 238.5,214.8 240.0,215.8 241.5,216.8 243.0,217.9 244.5,218.9 246.0,219.9 247.5,220.9 249.0,221.9 250.5,222.9 252.0,223.9 253.5,224.9 255.0,225.9 256.5,226.9 258.0,227.9 259.5,229.0 261.0,230.0 262.5,231.1 264.0,232.2 265.5,233.4 267.0,234.5 268.5,235.7 270.0,237.0 271.5,238.2 273.0,239.6 274.5,240.9 276.0,242.4 277.5,243.8 279.0,245.3 280.5,246.8 282.0,248.3 283.5,249.8 285.0,251.3 286.5,252.8 288.0,254.3 289.5,255.8 291.0,257.3 292.5,258.7 294.0,260.2 295.5,261.5 297.0,262.9 298.5,264.2 300.0,265.4 301.5,266.6 303.0,267.7 304.5,268.7 306.0,269.6 307.5,270.5 309.0,271.2 310.5,271.8 312.0,272.3 313.5,272.6 315.0,272.8 316.5,272.8 318.0,272.7 318.0,273.4 316.5,273.5 315.0,273.6 313.5,273.5 312.0,273.3 310.5,272.9 309.0,272.4 307.5,271.9 306.0,271.2 304.5,270.4 303.0,269.5 301.5,268.5 300.0,267.4 298.5,266.3 297.0,265.1 295.5,263.8 294.0,262.5 292.5,261.1 291.0,259.7 289.5,258.2 288.0,256.8 286.5,255.4 285.0,253.9 283.5,252.6 282.0,251.2 280.5,249.8 279.0,248.5 277.5,247.3 276.0,246.0 274.5,244.8 273.0,243.5 271.5,242.3 270.0,241.2 268.5,240.0 267.0,238.9 265.5,237.8 264.0,236.7 262.5,235.6 261.0,234.6 259.5,233.5 258.0,232.5 256.5,231.5 255.0,230.5 253.5,229.6 252.0,228.6 250.5,227.7 249.0,226.7 247.5,225.8 246.0,224.9 244.5,224.0 243.0,223.1 241.5,222.2 240.0,221.4 238.5,220.5 237.0,219.6 235.5,218.8 234.0,217.9 232.5,217.1 231.0,216.3 229.5,215.4 228.0,214.6 226.5,213.8 225.0,212.9 223.5,212.1 222.0,211.3 220.5,210.5 219.0,209.6 217.5,208.8 216.0,208.0 214.5,207.2 213.0,206.3 211.5,205.5 210.0,204.7 208.5,203.9 207.0,203.0 205.5,202.2 204.0,201.4 202.5,200.5 201.0,199.7 199.5,198.8 198.0,197.9 196.5,197.1 195.0,196.2 193.5,195.3 192.0,194.4 190.5,193.6 189.0,192.7 187.5,191.9 186.0,191.1 184.5,190.3 183.0,189.5 181.5,188.8 180.0,188.0 178.5,187.3 177.0,186.6 175.5,185.9 174.0,185.1 172.5,184.4 171.0,183.7 169.5,183.0 168.0,182.3 166.5,181.6 165.0,180.8 163.5,180.1 162.0,179.3 160.5,178.5 159.0,177.7 157.5,176.9 156.0,176.1 154.5,175.3 153.0,174.4 151.5,173.6 150.0,172.7 148.5,171.8 147.0,170.9 145.5,170.0 144.0,169.1 142.5,168.2 141.0,167.3 139.5,166.3 138.0,165.4 136.5,164.4 135.0,163.5 133.5,162.5 132.0,161.6 130.5,160.6 129.0,159.6 127.5,158.7 126.0,157.7 124.5,156.7 123.0,155.8 121.5,154.8 120.0,153.8 118.5,152.9 117.0,151.9 115.5,151.0 114.0,150.0 112.5,149.1 111.0,148.1 109.5,147.2 108.0,146.3 106.5,145.4 105.0,144.4 103.5,143.5 102.0,142.6 100.5,141.8 99.0,140.9 97.5,140.0 96.0,139.2 94.5,138.4 93.0,137.5 91.5,136.7 90.0,135.9 88.5,135.2 87.0,134.4 85.5,133.7 84.0,132.9 82.5,132.2 81.0,131.5 79.5,130.9 78.0,130.2"/>
<polygon fill="#ff00ff" points="78.0,185.3 79.5,186.5 81.0,187.6 82.5,188.7 84.0,189.8 85.5,190.9 87.0,191.9 88.5,193.0 90.0,194.0 91.5,195.0 93.0,196.0 94.5,197.0 96.0,198.0 97.5,199.0 99.0,199.9 100.5,200.8 102.0,201.8 103.5,202.7 105.0,203.6 106.5,204.5 108.0,205.3 109.5,206.2 111.0,207.1 112.5,207.9 114.0,208.7 115.5,209.6 117.0,210.4 118.5,211.2 120.0,212.0 121.5,212.8 123.0,213.5 124.5,214.3 126.0,215.1 127.5,215.8 129.0,216.6 130.5,217.3 132.0,218.0 133.5,218.8 135.0,219.5 136.5,220.2 138.0,220.9 139.5,221.6 141.0,222.3 142.5,223.0 144.0,223.7 145.5,224.4 147.0,225.0 148.5,225.7 150.0,226.4 151.5,227.0 153.0,227.7 154.5,228.3 156.0,229.0 157.5,229.6 159.0,230.3 160.5,230.9 162.0,231.5 163.5,232.2 165.0,232.8 166.5,233.4 168.0,234.0 169.5,234.6 171.0,235.3 172.5,235.9 174.0,236.5 175.5,237.1 177.0,237.7 178.5,238.3 180.0,238.9 181.5,239.5 183.0,240.1 184.5,240.7 186.0,241.3 187.5,241.8 189.0,242.4 190.5,243.0 192.0,243.6 193.5,244.2 195.0,244.8 196.5,245.4 198.0,245.9 199.5,246.5 201.0,247.1 202.5,247.7 204.0,248.3 205.5,248.8 207.0,249.4 208.5,250.0 210.0,250.6 211.5,251.1 213.0,251.7 214.5,252.2 216.0,252.8 217.5,253.4 219.0,253.9 220.5,254.5 222.0,255.0 223.5,255.6 225.0,256.1 226.5,256.6 228.0,257.2 229.5,257.7 231.0,258.2 232.5,258.7 234.0,259.2 235.5,259.7 237.0,260.2 238.5,260.7 240.0,261.2 241.5,261.7 243.0,262.2 244.5,262.6 246.0,263.1 247.5,263.5 249.0,264.0 250.5,264.4 252.0,264.9 253.5,265.3 255.0,265.7 256.5,266.1 258.0,266.5 259.5,266.9 261.0,267.3 262.5,267.6 264.0,268.0 265.5,268.4 267.0,268.7 268.5,269.0 270.0,269.4 271.5,269.7 273.0,270.0 274.5,270.3 276.0,270.6 277.5,270.8 279.0,271.1 280.5,271.3 282.0,271.6 283.5,271.8 285.0,272.0 286.5,272.2 288.0,272.4 289.5,272.6 291.0,272.8 292.5,272.9 294.0,273.0 295.5,273.2 297.0,273.3 298.5,273.4 300.0,273.5 300.0,273.6 298.5,273.6 297.0,273.5 295.5,273.5 294.0,273.4 292.5,273.4 291.0,273.3 289.5,273.2 288.0,273.0 286.5,272.9 285.0,272.7 283.5,272.6 282.0,272.4 280.5,272.2 279.0,272.0 277.5,271.7 276.0,271.5 274.5,271.2 273.0,270.9 271.5,270.7 270.0,270.4 268.5,270.0 267.0,269.7 265.5,269.4 264.0,269.0 262.5,268.7 261.0,268.3 259.5,267.9 258.0,267.5 256.5,267.1 255.0,266.7 253.5,266.3 252.0,265.9 250.5,265.4 249.0,265.0 247.5,264.5 246.0,264.1 244.5,263.6 243.0,263.1 241.5,262.6 240.0,262.1 238.5,261.6 237.0,261.1 235.5,260.6 234.0,260.1 232.5,259.6 231.0,259.1 229.5,258.5 228.0,258.0 226.5,257.4 225.0,256.9 223.5,256.4 222.0,255.8 220.5,255.3 219.0,254.7 217.5,254.1 216.0,253.6 214.5,253.0 213.0,252.4 211.5,251.9 210.0,251.3 208.5,250.8 207.0,250.2 205.5,249.6 204.0,249.1 202.5,248.5 201.0,247.9 199.5,247.4 198.0,246.8 196.5,246.2 195.0,245.7 193.5,245.1 192.0,244.6 190.5,244.0 189.0,243.5 187.5,242.9 186.0,242.4 184.5,241.8 183.0,241.3 181.5,240.7 180.0,240.2 178.5,239.6 177.0,239.1 175.5,238.6 174.0,238.0 172.5,237.5 171.0,236.9 169.5,236.4 168.0,235.8 166.5,235.3 165.0,234.7 163.5,234.2 162.0,233.6 160.5,233.0 159.0,232.5 157.5,231.9 156.0,231.4 154.5,230.8 153.0,230.3 151.5,229.7 150.0,229.2 148.5,228.6 147.0,228.1 145.5,227.5 144.0,227.0 142.5,226.4 141.0,225.9 139.5,225.3 138.0,224.8 136.5,224.3 135.0,223.7 133.5,223.2 132.0,222.7 130.5,222.2 129.0,221.6 127.5,221.1 126.0,220.6 124.5,220.1 123.0,219.5 121.5,219.0 120.0,218.5 118.5,217.9 117.0,217.4 115.5,216.8 114.0,216.2 112.5,215.7 111.0,215.1 109.5,214.5 108.0,213.8 106.5,213.2 105.0,212.6 103.5,211.9 102.0,211.2 100.5,210.5 99.0,209.8 97.5,209.1 96.0,208.4 94.5,207.6 93.0,206.9 91.5,206.1 90.0,205.3 88.5,204.5 87.0,203.6 85.5,202.8 84.0,201.9 82.5,201.0 81.0,200.1 79.5,199.2 78.0,198.2"/>
<polygon fill="#ff0000" points="78.0,-31.0 79.5,-27.0 81.0,-23.0 82.5,-19.0 84.0,-15.1 85.5,-11.3 87.0,-7.5 88.5,-3.7 90.0,-0.0 91.5,3.6 93.0,7.2 94.5,10.8 96.0,14.3 97.5,17.7 99.0,21.1 100.5,24.4 102.0,27.7 103.5,30.9 105.0,34.1 106.5,37.2 108.0,40.3 109.5,43.3 111.0,46.3 112.5,49.2 114.0,52.0 115.5,54.8 117.0,57.5 118.5,60.2 120.0,62.8 121.5,65.4 123.0,67.9 124.5,70.3 126.0,72.7 127.5,75.1 129.0,77.3 130.5,79.5 132.0,81.7 133.5,83.8 135.0,85.8 136.5,87.8 138.0,89.7 139.5,91.6 141.0,93.4 142.5,95.1 144.0,96.9 145.5,98.6 147.0,100.3 148.5,101.9 150.0,103.6 151.5,105.2 153.0,106.8 154.5,108.5 156.0,110.1 157.5,111.7 159.0,113.4 160.5,115.0 162.0,116.7 163.5,118.4 165.0,120.2 166.5,121.9 168.0,123.7 169.5,125.4 171.0,127.2 172.5,129.0 174.0,130.7 175.5,132.5 177.0,134.2 178.5,136.0 180.0,137.6 181.5,139.3 183.0,140.9 184.5,142.5 186.0,144.1 187.5,145.6 189.0,147.1 190.5,148.6 192.0,150.1 193.5,151.6 195.0,153.1 196.5,154.6 198.0,156.2 199.5,157.7 201.0,159.3 202.5,160.9 204.0,162.6 205.5,164.3 207.0,166.0 208.5,167.7 210.0,169.4 211.5,171.2 213.0,173.0 214.5,174.8 216.0,176.6 217.5,178.4 219.0,180.2 220.5,182.1 222.0,184.0 223.5,185.8 225.0,187.7 226.5,189.6 228.0,191.5 229.5,193.4 231.0,195.3 232.5,197.1 234.0,199.0 235.5,200.9 237.0,202.8 238.5,204.7 240.0,206.6 241.5,208.4 243.0,210.3 244.5,212.1 246.0,213.9 247.5,215.7 249.0,217.5 250.5,219.3 252.0,221.1 253.5,222.8 255.0,224.5 256.5,226.2 258.0,227.9 259.5,229.5 261.0,231.1 262.5,232.7 264.0,234.3 265.5,235.8 267.0,237.3 268.5,238.8 270.0,240.3 271.5,241.8 273.0,243.3 274.5,244.8 276.0,246.2 277.5,247.7 279.0,249.2 280.5,250.7 282.0,252.2 283.5,253.7 285.0,255.2 286.5,256.7 288.0,258.2 289.5,259.7 291.0,261.1 292.5,262.5 294.0,263.8 295.5,264.9 297.0,266.0 298.5,267.0 300.0,267.9 301.5,268.7 303.0,269.4 304.5,270.1 306.0,270.6 307.5,271.1 309.0,271.5 310.5,271.8 312.0,272.1 313.5,272.2 315.0,272.3 316.5,272.4 317.0,272.4 317.0,273.3 316.5,273.3 315.0,273.2 313.5,273.1 312.0,272.9 310.5,272.7 309.0,272.4 307.5,272.0 306.0,271.5 304.5,271.0 303.0,270.4 301.5,269.7 300.0,268.9 298.5,268.0 297.0,267.1 295.5,266.1 294.0,265.0 292.5,263.8 291.0,262.5 289.5,261.1 288.0,259.7 286.5,258.2 285.0,256.7 283.5,255.2 282.0,253.7 280.5,252.2 279.0,250.8 277.5,249.3 276.0,247.8 274.5,246.3 273.0,244.8 271.5,243.3 270.0,241.8 268.5,240.3 267.0,238.8 265.5,237.3 264.0,235.7 262.5,234.2 261.0,232.6 259.5,231.0 258.0,229.4 256.5,227.8 255.0,226.1 253.5,224.5 252.0,222.8 250.5,221.1 249.0,219.4 247.5,217.7 246.0,216.0 244.5,214.3 243.0,212.5 241.5,210.8 240.0,209.0 238.5,207.3 237.0,205.5 235.5,203.7 234.0,201.9 232.5,200.2 231.0,198.4 229.5,196.6 228.0,194.8 226.5,193.1 225.0,191.3 223.5,189.5 222.0,187.8 220.5,186.0 219.0,184.3 217.5,182.5 216.0,180.8 214.5,179.1 213.0,177.4 211.5,175.7 210.0,174.0 208.5,172.3 207.0,170.6 205.5,169.0 204.0,167.4 202.5,165.8 201.0,164.2 199.5,162.6 198.0,161.1 196.5,159.5 195.0,158.0 193.5,156.6 192.0,155.1 190.5,153.7 189.0,152.2 187.5,150.9 186.0,149.5 184.5,148.1 183.0,146.8 181.5,145.4 180.0,144.1 178.5,142.8 177.0,141.5 175.5,140.3 174.0,139.0 172.5,137.7 171.0,136.5 169.5,135.2 168.0,134.0 166.5,132.8 165.0,131.5 163.5,130.3 162.0,129.1 160.5,127.8 159.0,126.6 157.5,125.4 156.0,124.1 154.5,122.9 153.0,121.6 151.5,120.4 150.0,119.1 148.5,117.8 147.0,116.5 145.5,115.2 144.0,113.9 142.5,112.6 141.0,111.3 139.5,109.9 138.0,108.5 136.5,107.1 135.0,105.7 133.5,104.3 132.0,102.8 130.5,101.4 129.0,99.9 127.5,98.3 126.0,96.8 124.5,95.2 123.0,93.6 121.5,92.0 120.0,90.3 118.5,88.6 117.0,87.0 115.5,85.3 114.0,83.6 112.5,81.9 111.0,80.2 109.5,78.4 108.0,76.7 106.5,75.0 105.0,73.3 103.5,71.6 102.0,69.9 100.5,68.2 99.0,66.6 97.5,64.9 96.0,63.3 94.5,61.7 93.0,60.1 91.5,58.6 90.0,57.1 88.5,55.6 87.0,54.1 85.5,52.7 84.0,51.4 82.5,50.0 81.0,48.7 79.5,47.5 78.0,46.3"/>
</g>
<g clip-path="url(#c2)">
<polygon fill="#59d4d4" points="489.4,1.5 489.6,2.5 489.9,3.4 490.2,4.4 490.5,5.3 490.7,6.3 491.0,7.2 491.3,8.2 491.5,9.1 491.8,10.1 492.1,11.0 492.4,12.0 492.7,12.9 492.9,13.9 493.2,14.8 493.5,15.8 493.8,16.7 494.1,17.7 494.3,18.6 494.6,19.6 494.9,20.5 495.2,21.5 495.5,22.4 495.8,23.4 496.1,24.3 496.4,25.3 496.7,26.2 497.0,27.2 497.3,28.1 497.6,29.1 497.9,30.0 498.2,31.0 498.5,31.9 498.8,32.9 499.1,33.8 499.4,34.8 499.7,35.8 500.0,36.7 500.3,37.7 500.6,38.6 500.9,39.6 501.2,40.5 501.5,41.5 501.8,42.4 502.1,43.4 502.4,44.3 502.7,45.3 503.0,46.3 503.3,47.2 503.6,48.2 503.9,49.1 504.2,50.1 504.5,51.1 504.8,52.0 505.1,53.0 505.4,53.9 505.7,54.9 506.0,55.8 506.3,56.8 506.6,57.8 506.9,58.7 507.2,59.7 507.5,60.6 507.8,61.6 508.1,62.6 508.4,63.5 508.7,64.5 509.0,65.4 509.3,66.4 509.6,67.4 509.9,68.3 510.2,69.3 510.6,70.2 510.9,71.2 511.2,72.2 511.5,73.1 511.8,74.1 512.1,75.0 512.4,76.0 512.7,77.0 513.1,77.9 513.4,78.9 513.7,79.8 514.0,80.8 514.3,81.8 514.6,82.7 515.0,83.7 515.3,84.6 515.6,85.6 515.9,86.5 516.3,87.5 516.6,88.4 516.9,89.4 517.2,90.4 517.6,91.3 517.9,92.3 518.2,93.2 518.6,94.2 518.9,95.1 519.2,96.1 519.6,97.0 519.9,98.0 520.2,98.9 520.6,99.9 520.9,100.8 521.3,101.8 521.6,102.7 522.0,103.7 522.3,104.6 522.6,105.6 523.0,106.5 523.3,107.5 523.7,108.4 524.0,109.4 524.4,110.3 524.7,111.3 525.1,112.2 525.5,113.2 525.8,114.1 526.2,115.0 526.5,116.0 526.9,116.9 527.2,117.9 527.6,118.8 528.0,119.8 528.3,120.7 528.7,121.6 529.1,122.6 529.5,123.5 529.8,124.4 530.2,125.4 530.6,126.3 530.9,127.3 531.3,128.2 531.7,129.1 532.1,130.1 532.5,131.0 532.9,131.9 533.2,132.8 533.6,133.8 534.0,134.7 534.4,135.6 534.8,136.6 535.2,137.5 535.6,138.4 536.0,139.3 536.4,140.3 536.8,141.2 537.2,142.1 537.6,143.0 538.0,143.9 538.4,144.9 538.8,145.8 539.2,146.7 539.6,147.6 540.0,148.5 540.4,149.4 540.9,150.4 541.3,151.3 541.7,152.2 542.1,153.1 542.5,154.0 542.9,154.9 543.4,155.8 543.8,156.7 544.2,157.6 544.6,158.6 545.0,159.5 545.5,160.4 545.9,161.3 546.3,162.2 546.8,163.1 547.2,164.0 547.6,164.9 548.1,165.8 548.5,166.7 548.9,167.6 549.4,168.5 549.8,169.4 550.3,170.3 550.7,171.2 551.2,172.1 551.6,173.0 552.1,173.8 552.5,174.7 553.0,175.6 553.4,176.5 553.9,177.4 554.3,178.3 554.8,179.2 555.3,180.1 555.7,180.9 556.2,181.8 556.7,182.7 557.2,183.6 557.6,184.4 558.1,185.3 558.6,186.2 559.1,187.1 559.6,187.9 560.0,188.8 560.5,189.7 561.0,190.6 561.5,191.4 562.0,192.3 562.5,193.1 563.0,194.0 563.5,194.9 564.0,195.7 564.5,196.6 565.0,197.4 565.6,198.3 566.1,199.2 566.6,200.0 567.1,200.9 567.6,201.7 568.2,202.6 568.7,203.4 569.2,204.2 569.8,205.1 570.3,205.9 570.8,206.8 571.4,207.6 571.9,208.5 572.5,209.3 573.0,210.1 573.6,211.0 574.1,211.8 574.7,212.6 575.2,213.4 575.8,214.3 576.4,215.1 577.0,215.9 577.5,216.7 578.1,217.6 578.7,218.4 579.3,219.2 579.8,220.0 580.4,220.8 581.0,221.6 581.6,222.5 582.2,223.3 582.8,224.1 583.4,224.9 584.0,225.7 584.6,226.5 585.2,227.3 585.8,228.1 586.5,228.9 587.1,229.7 587.7,230.5 588.3,231.3 589.0,232.1 589.6,232.8 590.3,233.6 590.9,234.4 591.6,235.2 592.2,236.0 592.9,236.7 593.6,237.5 594.2,238.3 594.9,239.0 595.6,239.8 596.3,240.5 597.0,241.3 597.7,242.0 598.3,242.8 599.0,243.5 599.7,244.3 600.4,245.0 601.2,245.7 601.9,246.4 602.6,247.1 603.3,247.9 604.0,248.6 604.8,249.3 605.5,250.0 606.2,250.6 607.0,251.3 607.7,252.0 608.5,252.7 609.2,253.4 610.0,254.0 610.7,254.7 611.5,255.3 612.3,256.0 613.1,256.6 613.9,257.2 614.6,257.8 615.4,258.4 616.2,259.0 617.0,259.6 617.9,260.2 618.7,260.8 619.5,261.3 620.3,261.9 621.2,262.4 622.0,263.0 622.9,263.5 623.7,264.0 624.6,264.5 625.4,265.0 626.3,265.5 627.2,265.9 628.1,266.4 629.0,266.8 629.9,267.2 630.8,267.7 631.7,268.1 632.6,268.5 633.5,268.8 634.4,269.2 635.4,269.5 636.3,269.9 637.3,270.2 638.2,270.5 639.2,270.8 640.1,271.1 641.1,271.4 642.1,271.7 643.0,271.9 644.0,272.1 645.0,272.4 646.0,272.6 647.0,272.8 648.0,272.9 649.0,273.1 650.1,273.2 651.1,273.4 652.1,273.5 653.1,273.6 654.2,273.7 655.2,273.8 656.3,273.8 657.4,273.9 658.1,273.9 658.1,273.1 657.4,273.0 656.4,272.9 655.3,272.8 654.3,272.7 653.3,272.6 652.2,272.4 651.2,272.3 650.2,272.1 649.2,271.9 648.3,271.7 647.3,271.5 646.3,271.3 645.3,271.0 644.4,270.8 643.4,270.5 642.5,270.2 641.5,269.9 640.6,269.6 639.7,269.3 638.8,268.9 637.9,268.6 637.0,268.2 636.1,267.8 635.2,267.5 634.3,267.1 633.4,266.6 632.5,266.2 631.7,265.8 630.8,265.4 629.9,264.9 629.1,264.5 628.2,264.0 627.4,263.5 626.6,263.0 625.7,262.5 624.9,262.0 624.1,261.5 623.3,261.0 622.4,260.5 621.6,259.9 620.8,259.4 620.0,258.8 619.2,258.3 618.5,257.7 617.7,257.1 616.9,256.5 616.1,255.9 615.3,255.3 614.6,254.7 613.8,254.1 613.1,253.5 612.3,252.8 611.6,252.2 610.8,251.6 610.1,250.9 609.3,250.2 608.6,249.6 607.9,248.9 607.2,248.2 606.5,247.5 605.8,246.8 605.0,246.1 604.4,245.4 603.7,244.7 603.0,244.0 602.3,243.2 601.6,242.5 600.9,241.8 600.3,241.0 599.6,240.3 598.9,239.5 598.3,238.8 597.6,238.0 597.0,237.2 596.3,236.5 595.7,235.7 595.0,234.9 594.4,234.1 593.8,233.4 593.2,232.6 592.5,231.8 591.9,231.0 591.3,230.2 590.7,229.4 590.1,228.6 589.5,227.8 588.9,227.0 588.3,226.3 587.7,225.5 587.1,224.7 586.5,223.9 585.9,223.1 585.3,222.3 584.7,221.5 584.1,220.6 583.5,219.8 582.9,219.0 582.4,218.2 581.8,217.4 581.2,216.6 580.7,215.8 580.1,214.9 579.6,214.1 579.0,213.3 578.5,212.5 577.9,211.7 577.4,210.8 576.8,210.0 576.3,209.2 575.8,208.3 575.2,207.5 574.7,206.7 574.2,205.8 573.6,205.0 573.1,204.1 572.6,203.3 572.1,202.5 571.6,201.6 571.1,200.8 570.5,199.9 570.0,199.1 569.5,198.2 569.0,197.4 568.5,196.5 568.0,195.7 567.5,194.8 567.0,194.0 566.5,193.1 566.1,192.3 565.6,191.4 565.1,190.5 564.6,189.7 564.1,188.8 563.6,187.9 563.2,187.1 562.7,186.2 562.2,185.3 561.7,184.5 561.3,183.6 560.8,182.7 560.3,181.9 559.9,181.0 559.4,180.1 559.0,179.2 558.5,178.4 558.1,177.5 557.6,176.6 557.2,175.7 556.7,174.8 556.3,173.9 555.8,173.1 555.4,172.2 554.9,171.3 554.5,170.4 554.1,169.5 553.6,168.6 553.2,167.7 552.8,166.8 552.3,165.9 551.9,165.0 551.5,164.1 551.1,163.2 550.7,162.3 550.2,161.4 549.8,160.5 549.4,159.6 549.0,158.7 548.6,157.8 548.2,156.9 547.8,156.0 547.4,155.1 547.0,154.2 546.6,153.3 546.2,152.4 545.8,151.5 545.4,150.6 545.0,149.6 544.6,148.7 544.2,147.8 543.8,146.9 543.4,146.0 543.1,145.0 542.7,144.1 542.3,143.2 541.9,142.3 541.5,141.4 541.2,140.4 540.8,139.5 540.4,138.6 540.1,137.6 539.7,136.7 539.3,135.8 539.0,134.9 538.6,133.9 538.2,133.0 537.9,132.1 537.5,131.1 537.2,130.2 536.8,129.3 536.5,128.3 536.1,127.4 535.8,126.5 535.4,125.5 535.1,124.6 534.7,123.6 534.4,122.7 534.0,121.8 533.7,120.8 533.3,119.9 533.0,118.9 532.6,118.0 532.3,117.1 532.0,116.1 531.6,115.2 531.3,114.2 531.0,113.3 530.6,112.3 530.3,111.4 530.0,110.4 529.6,109.5 529.3,108.6 529.0,107.6 528.7,106.7 528.3,105.7 528.0,104.8 527.7,103.8 527.4,102.9 527.1,101.9 526.7,101.0 526.4,100.0 526.1,99.1 525.8,98.1 525.5,97.1 525.2,96.2 524.9,95.2 524.6,94.3 524.3,93.3 524.0,92.4 523.7,91.4 523.4,90.5 523.1,89.5 522.8,88.5 522.5,87.6 522.2,86.6 521.9,85.7 521.6,84.7 521.3,83.8 521.0,82.8 520.7,81.8 520.4,80.9 520.1,79.9 519.8,79.0 519.5,78.0 519.3,77.0 519.0,76.1 518.7,75.1 518.4,74.1 518.1,73.2 517.8,72.2 517.6,71.3 517.3,70.3 517.0,69.3 516.7,68.4 516.5,67.4 516.2,66.4 515.9,65.5 515.6,64.5 515.4,63.6 515.1,62.6 514.8,61.6 514.6,60.7 514.3,59.7 514.1,58.7 513.8,57.8 513.5,56.8 513.3,55.8 513.0,54.9 512.8,53.9 512.5,52.9 512.3,52.0 512.0,51.0 511.8,50.0 511.5,49.1 511.3,48.1 511.0,47.1 510.8,46.2 510.5,45.2 510.3,44.2 510.1,43.3 509.8,42.3 509.6,41.3 509.4,40.3 509.1,39.4 508.9,38.4 508.7,37.4 508.5,36.5 508.2,35.5 508.0,34.5 507.8,33.6 507.6,32.6 507.4,31.6 507.1,30.6 506.9,29.7 506.7,28.7 506.5,27.7 506.3,26.8 506.1,25.8 505.9,24.8 505.6,23.9 505.4,22.9 505.2,21.9 505.0,21.0 504.8,20.0 504.6,19.0 504.4,18.1 504.2,17.1 503.9,16.1 503.7,15.2 503.5,14.2 503.3,13.2 503.1,12.3 502.9,11.3 502.7,10.3 502.5,9.4 502.2,8.4 502.0,7.5 501.8,6.5 501.6,5.5 501.4,4.6 501.2,3.6 501.0,2.7 500.8,1.7 500.6,0.8 500.3,-0.2 500.1,-1.2"/>
<polygon fill="#0000ff" points="425.3,267.0 426.2,266.9 427.2,266.8 428.2,266.6 429.1,266.5 430.1,266.3 431.1,266.2 432.1,266.1 433.0,265.9 434.0,265.8 435.0,265.6 436.0,265.5 437.0,265.3 437.9,265.2 438.9,265.1 439.9,264.9 440.9,264.8 441.9,264.6 442.9,264.5 443.9,264.3 444.8,264.2 445.8,264.0 446.8,263.9 447.8,263.7 448.8,263.5 449.8,263.4 450.8,263.2 451.8,263.1 452.7,262.9 453.7,262.8 454.7,262.6 455.7,262.4 456.7,262.3 457.7,262.1 458.7,261.9 459.7,261.7 460.7,261.6 461.7,261.4 462.7,261.2 463.7,261.0 464.6,260.9 465.6,260.7 466.6,260.5 467.6,260.3 468.6,260.1 469.6,259.9 470.6,259.7 471.6,259.5 472.6,259.3 473.6,259.1 474.5,258.9 475.5,258.7 476.5,258.5 477.5,258.3 478.5,258.1 479.5,257.9 480.5,257.6 481.4,257.4 482.4,257.2 483.4,257.0 484.4,256.7 485.4,256.5 486.4,256.2 487.3,256.0 488.3,255.8 489.3,255.5 490.3,255.3 491.2,255.0 492.2,254.7 493.2,254.5 494.2,254.2 495.1,253.9 496.1,253.7 497.1,253.4 498.0,253.1 499.0,252.8 500.0,252.5 500.9,252.2 501.9,252.0 502.9,251.7 503.8,251.4 504.8,251.0 505.7,250.7 506.7,250.4 507.6,250.1 508.6,249.8 509.5,249.4 510.5,249.1 511.4,248.8 512.4,248.4 513.3,248.1 514.3,247.7 515.2,247.4 516.1,247.0 517.1,246.7 518.0,246.3 518.9,245.9 519.9,245.5 520.8,245.2 521.7,244.8 522.6,244.4 523.6,244.0 524.5,243.6 525.4,243.2 526.3,242.8 527.2,242.3 528.1,241.9 529.0,241.5 529.9,241.1 530.8,240.6 531.7,240.2 532.6,239.7 533.5,239.3 534.4,238.8 535.3,238.3 536.2,237.9 537.1,237.4 538.0,236.9 538.8,236.4 539.7,235.9 540.6,235.4 541.5,234.9 542.3,234.4 543.2,233.9 544.0,233.3 544.9,232.8 545.8,232.3 546.6,231.7 547.4,231.2 548.3,230.6 549.1,230.1 550.0,229.5 550.8,228.9 551.6,228.4 552.5,227.8 553.3,227.2 554.1,226.6 554.9,226.0 555.7,225.4 556.6,224.8 557.4,224.2 558.2,223.6 559.0,223.0 559.8,222.4 560.6,221.8 561.4,221.2 562.2,220.5 563.0,219.9 563.7,219.3 564.5,218.6 565.3,218.0 566.1,217.4 566.9,216.7 567.6,216.1 568.4,215.4 569.2,214.8 569.9,214.1 570.7,213.4 571.4,212.8 572.2,212.1 572.9,211.4 573.7,210.8 574.4,210.1 575.2,209.4 575.9,208.8 576.6,208.1 577.4,207.4 578.1,206.7 578.8,206.0 579.6,205.4 580.3,204.7 581.0,204.0 581.7,203.3 582.4,202.6 583.1,201.9 583.9,201.2 584.6,200.6 585.3,199.9 586.0,199.2 586.7,198.5 587.4,197.8 588.1,197.1 588.8,196.4 589.5,195.7 590.2,195.0 590.9,194.2 591.6,193.5 592.3,192.8 593.0,192.1 593.7,191.4 594.4,190.7 595.1,190.0 595.8,189.3 596.5,188.5 597.3,187.8 598.0,187.1 598.7,186.3 599.4,185.6 600.2,184.9 600.9,184.2 601.6,183.4 602.4,182.7 603.1,181.9 603.8,181.2 604.6,180.4 605.4,179.7 606.1,179.0 606.9,178.3 607.6,177.5 608.4,176.8 609.2,176.2 610.0,175.5 610.7,174.8 611.5,174.2 612.3,173.6 613.1,173.0 613.9,172.5 614.7,172.0 615.5,171.5 616.3,171.0 617.1,170.6 617.9,170.2 618.7,169.9 619.5,169.6 620.3,169.4 621.1,169.2 621.9,169.0 622.6,168.9 623.4,168.9 624.1,168.8 624.9,168.9 625.6,169.0 626.4,169.1 627.1,169.3 627.9,169.5 628.6,169.8 629.4,170.1 630.1,170.5 630.9,171.0 631.6,171.4 632.4,172.0 633.1,172.6 633.8,173.2 634.6,173.8 635.3,174.5 636.0,175.2 636.7,176.0 637.4,176.8 638.0,177.6 638.7,178.4 639.3,179.2 639.9,180.0 640.5,180.9 641.0,181.7 641.6,182.6 642.1,183.4 642.6,184.3 643.1,185.2 643.6,186.1 644.0,186.9 644.5,187.8 644.9,188.7 645.3,189.6 645.7,190.5 646.1,191.4 646.5,192.3 646.9,193.3 647.2,194.2 647.6,195.1 647.9,196.0 648.3,197.0 648.6,197.9 648.9,198.9 649.2,199.8 649.6,200.7 649.9,201.7 650.2,202.6 650.5,203.6 650.7,204.5 651.0,205.5 651.3,206.5 651.6,207.4 651.9,208.4 652.1,209.3 652.4,210.3 652.7,211.3 652.9,212.2 653.2,213.2 653.5,214.2 653.7,215.1 654.0,216.1 654.2,217.1 654.5,218.0 654.7,219.0 655.0,220.0 655.3,220.9 655.5,221.9 655.8,222.9 656.0,223.9 656.3,224.8 656.6,225.8 656.8,226.8 657.1,227.7 657.3,228.7 657.6,229.7 657.9,230.6 658.1,231.6 658.4,232.5 658.7,233.5 659.0,234.5 659.2,235.4 659.5,236.4 659.8,237.3 660.1,238.3 660.4,239.3 660.7,240.2 661.0,241.2 661.3,242.1 661.6,243.1 661.9,244.0 662.2,245.0 662.6,245.9 662.9,246.8 663.2,247.8 663.6,248.7 663.9,249.6 664.3,250.6 664.6,251.5 665.0,252.4 665.4,253.4 665.7,254.3 666.1,255.2 666.5,256.1 666.9,257.0 667.3,257.9 667.8,258.8 668.2,259.7 668.6,260.6 669.0,261.5 669.5,262.4 670.0,263.3 670.4,264.2 670.9,265.1 671.4,266.0 671.9,266.9 672.4,267.7 672.9,268.6 673.4,269.4 674.0,270.3 674.5,271.2 675.1,272.0 675.4,272.4 675.6,272.2 675.3,271.8 674.8,271.0 674.3,270.1 673.7,269.3 673.2,268.4 672.7,267.5 672.2,266.7 671.7,265.8 671.3,264.9 670.8,264.0 670.3,263.1 669.9,262.2 669.5,261.3 669.0,260.4 668.6,259.5 668.2,258.6 667.8,257.7 667.4,256.8 667.0,255.9 666.6,255.0 666.2,254.1 665.9,253.2 665.5,252.2 665.1,251.3 664.8,250.4 664.4,249.5 664.1,248.5 663.8,247.6 663.4,246.6 663.1,245.7 662.8,244.8 662.5,243.8 662.2,242.9 661.9,241.9 661.6,241.0 661.3,240.0 661.0,239.1 660.7,238.1 660.4,237.2 660.2,236.2 659.9,235.2 659.6,234.3 659.3,233.3 659.1,232.4 658.8,231.4 658.5,230.4 658.3,229.5 658.0,228.5 657.8,227.5 657.5,226.6 657.3,225.6 657.0,224.6 656.8,223.7 656.5,222.7 656.3,221.7 656.0,220.7 655.8,219.8 655.6,218.8 655.3,217.8 655.1,216.9 654.8,215.9 654.6,214.9 654.3,213.9 654.1,213.0 653.8,212.0 653.5,211.0 653.3,210.1 653.0,209.1 652.8,208.1 652.5,207.2 652.3,206.2 652.0,205.2 651.7,204.3 651.5,203.3 651.2,202.3 650.9,201.4 650.6,200.4 650.3,199.4 650.1,198.5 649.8,197.5 649.5,196.6 649.2,195.6 648.9,194.7 648.5,193.7 648.2,192.8 647.9,191.8 647.6,190.9 647.2,189.9 646.9,189.0 646.5,188.0 646.2,187.1 645.8,186.1 645.4,185.2 644.9,184.2 644.5,183.3 644.0,182.4 643.6,181.4 643.0,180.5 642.5,179.6 642.0,178.7 641.4,177.7 640.8,176.8 640.2,175.9 639.5,175.0 638.8,174.2 638.2,173.3 637.4,172.5 636.7,171.7 635.9,170.9 635.1,170.2 634.3,169.5 633.5,168.8 632.6,168.2 631.8,167.7 630.9,167.2 630.0,166.7 629.1,166.3 628.1,166.0 627.2,165.7 626.2,165.5 625.2,165.4 624.2,165.3 623.2,165.4 622.2,165.5 621.3,165.6 620.3,165.8 619.3,166.1 618.4,166.4 617.5,166.8 616.5,167.2 615.6,167.7 614.7,168.2 613.8,168.7 613.0,169.3 612.1,169.9 611.3,170.5 610.4,171.1 609.6,171.8 608.8,172.5 608.0,173.2 607.2,173.9 606.4,174.6 605.6,175.4 604.8,176.1 604.1,176.9 603.3,177.6 602.5,178.4 601.8,179.1 601.0,179.9 600.3,180.6 599.6,181.4 598.8,182.1 598.1,182.9 597.4,183.6 596.7,184.3 595.9,185.1 595.2,185.8 594.5,186.5 593.8,187.3 593.1,188.0 592.4,188.7 591.7,189.4 591.0,190.1 590.3,190.9 589.6,191.6 588.9,192.3 588.2,193.0 587.5,193.7 586.8,194.4 586.1,195.1 585.4,195.8 584.7,196.5 584.0,197.2 583.3,197.9 582.6,198.6 581.9,199.2 581.2,199.9 580.5,200.6 579.8,201.3 579.1,202.0 578.4,202.7 577.6,203.3 576.9,204.0 576.2,204.7 575.5,205.4 574.8,206.0 574.0,206.7 573.3,207.4 572.6,208.0 571.8,208.7 571.1,209.4 570.3,210.0 569.6,210.7 568.8,211.3 568.1,212.0 567.3,212.6 566.6,213.3 565.8,213.9 565.1,214.6 564.3,215.2 563.5,215.8 562.8,216.5 562.0,217.1 561.2,217.7 560.4,218.3 559.6,219.0 558.9,219.6 558.1,220.2 557.3,220.8 556.5,221.4 555.7,222.0 554.9,222.6 554.1,223.2 553.3,223.8 552.5,224.3 551.7,224.9 550.9,225.5 550.0,226.1 549.2,226.6 548.4,227.2 547.6,227.7 546.7,228.3 545.9,228.8 545.1,229.4 544.3,229.9 543.4,230.4 542.6,231.0 541.7,231.5 540.9,232.0 540.0,232.5 539.2,233.0 538.3,233.5 537.5,234.0 536.6,234.5 535.7,235.0 534.9,235.4 534.0,235.9 533.1,236.4 532.3,236.8 531.4,237.3 530.5,237.7 529.6,238.2 528.7,238.6 527.9,239.0 527.0,239.5 526.1,239.9 525.2,240.3 524.3,240.7 523.4,241.1 522.5,241.5 521.6,241.9 520.7,242.3 519.8,242.7 518.8,243.1 517.9,243.5 517.0,243.8 516.1,244.2 515.2,244.6 514.3,244.9 513.3,245.3 512.4,245.6 511.5,246.0 510.5,246.3 509.6,246.7 508.7,247.0 507.7,247.3 506.8,247.6 505.9,248.0 504.9,248.3 504.0,248.6 503.0,248.9 502.1,249.2 501.1,249.5 500.2,249.8 499.2,250.1 498.3,250.4 497.3,250.7 496.4,251.0 495.4,251.2 494.4,251.5 493.5,251.8 492.5,252.1 491.6,252.3 490.6,252.6 489.6,252.8 488.7,253.1 487.7,253.3 486.7,253.6 485.8,253.8 484.8,254.1 483.8,254.3 482.8,254.6 481.9,254.8 480.9,255.0 479.9,255.2 478.9,255.5 478.0,255.7 477.0,255.9 476.0,256.1 475.0,256.4 474.0,256.6 473.1,256.8 472.1,257.0 471.1,257.2 470.1,257.4 469.1,257.6 468.1,257.8 467.2,258.0 466.2,258.2 465.2,258.4 464.2,258.6 463.2,258.8 462.2,258.9 461.3,259.1 460.3,259.3 459.3,259.5 458.3,259.7 457.3,259.8 456.3,260.0 455.3,260.2 454.4,260.4 453.4,260.5 452.4,260.7 451.4,260.9 450.4,261.0 449.4,261.2 448.4,261.4 447.5,261.5 446.5,261.7 445.5,261.8 444.5,262.0 443.5,262.2 442.5,262.3 441.5,262.5 440.6,262.6 439.6,262.8 438.6,262.9 437.6,263.1 436.6,263.2 435.7,263.4 434.7,263.5 433.7,263.7 432.7,263.8 431.8,264.0 430.8,264.1 429.8,264.3 428.8,264.4 427.9,264.5 426.9,264.7 425.9,264.8 424.9,265.0"/>
<polygon fill="#0000cd" points="499.5,0.1 499.7,1.0 500.0,2.0 500.2,3.0 500.4,4.0 500.6,4.9 500.9,5.9 501.1,6.9 501.3,7.9 501.6,8.9 501.8,9.8 502.0,10.8 502.3,11.8 502.5,12.8 502.7,13.7 503.0,14.7 503.2,15.7 503.4,16.7 503.7,17.6 503.9,18.6 504.2,19.6 504.4,20.5 504.7,21.5 504.9,22.5 505.1,23.5 505.4,24.4 505.6,25.4 505.9,26.4 506.1,27.4 506.4,28.3 506.6,29.3 506.9,30.3 507.1,31.2 507.4,32.2 507.6,33.2 507.9,34.2 508.1,35.1 508.4,36.1 508.6,37.1 508.9,38.0 509.2,39.0 509.4,40.0 509.7,40.9 509.9,41.9 510.2,42.9 510.5,43.8 510.7,44.8 511.0,45.8 511.3,46.7 511.5,47.7 511.8,48.7 512.1,49.6 512.4,50.6 512.6,51.6 512.9,52.5 513.2,53.5 513.5,54.5 513.7,55.4 514.0,56.4 514.3,57.3 514.6,58.3 514.9,59.3 515.1,60.2 515.4,61.2 515.7,62.1 516.0,63.1 516.3,64.1 516.6,65.0 516.9,66.0 517.2,66.9 517.5,67.9 517.8,68.9 518.1,69.8 518.4,70.8 518.7,71.7 519.0,72.7 519.3,73.6 519.6,74.6 519.9,75.5 520.2,76.5 520.5,77.4 520.8,78.4 521.1,79.3 521.4,80.3 521.7,81.2 522.0,82.2 522.3,83.1 522.7,84.1 523.0,85.0 523.3,86.0 523.6,86.9 523.9,87.9 524.3,88.8 524.6,89.8 524.9,90.7 525.2,91.7 525.6,92.6 525.9,93.6 526.2,94.5 526.5,95.4 526.9,96.4 527.2,97.3 527.6,98.3 527.9,99.2 528.2,100.2 528.6,101.1 528.9,102.0 529.3,103.0 529.6,103.9 529.9,104.8 530.3,105.8 530.6,106.7 531.0,107.7 531.3,108.6 531.7,109.5 532.1,110.5 532.4,111.4 532.8,112.3 533.1,113.3 533.5,114.2 533.9,115.1 534.2,116.0 534.6,117.0 535.0,117.9 535.3,118.8 535.7,119.8 536.1,120.7 536.4,121.6 536.8,122.5 537.2,123.4 537.6,124.4 538.0,125.3 538.3,126.2 538.7,127.1 539.1,128.1 539.5,129.0 539.9,129.9 540.3,130.8 540.7,131.7 541.1,132.6 541.5,133.6 541.9,134.5 542.3,135.4 542.7,136.3 543.1,137.2 543.5,138.1 543.9,139.0 544.3,139.9 544.7,140.9 545.1,141.8 545.5,142.7 545.9,143.6 546.4,144.5 546.8,145.4 547.2,146.3 547.6,147.2 548.0,148.1 548.5,149.0 548.9,149.9 549.3,150.8 549.8,151.7 550.2,152.6 550.6,153.5 551.1,154.4 551.5,155.3 551.9,156.2 552.4,157.1 552.8,158.0 553.3,158.9 553.7,159.8 554.2,160.7 554.6,161.6 555.1,162.4 555.5,163.3 556.0,164.2 556.4,165.1 556.9,166.0 557.3,166.9 557.8,167.8 558.3,168.7 558.7,169.5 559.2,170.4 559.7,171.3 560.1,172.2 560.6,173.1 561.1,173.9 561.6,174.8 562.1,175.7 562.5,176.6 563.0,177.4 563.5,178.3 564.0,179.2 564.5,180.1 565.0,180.9 565.5,181.8 566.0,182.7 566.5,183.5 567.0,184.4 567.5,185.3 568.0,186.1 568.5,187.0 569.0,187.9 569.5,188.7 570.0,189.6 570.5,190.5 571.0,191.3 571.5,192.2 572.0,193.0 572.6,193.9 573.1,194.7 573.6,195.6 574.1,196.5 574.7,197.3 575.2,198.1 575.8,199.0 576.3,199.8 576.9,200.7 577.4,201.5 578.0,202.4 578.5,203.2 579.1,204.0 579.6,204.9 580.2,205.7 580.7,206.6 581.3,207.4 581.8,208.2 582.4,209.1 582.9,209.9 583.5,210.8 584.1,211.6 584.6,212.4 585.2,213.3 585.8,214.1 586.3,214.9 586.9,215.7 587.5,216.6 588.1,217.4 588.6,218.2 589.2,219.1 589.8,219.9 590.4,220.7 591.0,221.5 591.6,222.3 592.2,223.2 592.8,224.0 593.4,224.8 594.0,225.6 594.6,226.4 595.2,227.2 595.8,228.1 596.4,228.9 597.0,229.7 597.6,230.5 598.2,231.3 598.9,232.1 599.5,232.9 600.1,233.7 600.7,234.5 601.4,235.3 602.0,236.1 602.6,236.9 603.3,237.7 603.9,238.5 604.6,239.2 605.2,240.0 605.9,240.8 606.5,241.6 607.2,242.3 607.8,243.1 608.5,243.9 609.2,244.6 609.9,245.4 610.5,246.1 611.2,246.9 611.9,247.6 612.6,248.3 613.3,249.1 614.0,249.8 614.7,250.5 615.4,251.2 616.1,251.9 616.8,252.6 617.6,253.3 618.3,254.0 619.0,254.7 619.7,255.4 620.5,256.1 621.2,256.7 622.0,257.4 622.7,258.0 623.5,258.7 624.3,259.3 625.0,259.9 625.8,260.5 626.6,261.1 627.4,261.7 628.2,262.3 629.0,262.9 629.8,263.4 630.7,264.0 631.5,264.5 632.3,265.0 633.1,265.5 634.0,266.0 634.8,266.5 635.7,267.0 636.5,267.5 637.4,267.9 638.3,268.4 639.1,268.8 640.0,269.2 640.9,269.6 641.8,270.0 642.7,270.4 643.6,270.7 644.5,271.1 645.4,271.4 646.4,271.7 647.3,272.0 648.2,272.3 649.2,272.5 650.2,272.8 651.1,273.0 652.1,273.2 653.1,273.4 654.1,273.6 655.1,273.8 656.1,273.9 657.1,274.0 658.1,274.1 659.1,274.2 659.6,274.2 659.6,273.1 659.2,273.1 658.2,273.0 657.2,272.9 656.2,272.8 655.2,272.7 654.2,272.5 653.3,272.3 652.3,272.2 651.4,271.9 650.4,271.7 649.5,271.5 648.5,271.2 647.6,271.0 646.7,270.7 645.8,270.4 644.9,270.0 644.0,269.7 643.1,269.3 642.2,269.0 641.4,268.6 640.5,268.2 639.6,267.8 638.8,267.4 637.9,266.9 637.1,266.5 636.2,266.0 635.4,265.5 634.6,265.0 633.8,264.5 632.9,264.0 632.1,263.5 631.3,262.9 630.6,262.4 629.8,261.8 629.0,261.2 628.2,260.6 627.4,260.1 626.7,259.5 625.9,258.8 625.2,258.2 624.4,257.6 623.6,257.0 622.9,256.3 622.2,255.7 621.4,255.0 620.7,254.4 620.0,253.7 619.2,253.0 618.5,252.3 617.8,251.6 617.1,250.9 616.4,250.2 615.7,249.5 615.0,248.8 614.3,248.1 613.6,247.4 612.9,246.7 612.2,245.9 611.6,245.2 610.9,244.4 610.2,243.7 609.6,242.9 608.9,242.2 608.2,241.4 607.6,240.7 606.9,239.9 606.3,239.1 605.6,238.3 605.0,237.6 604.4,236.8 603.7,236.0 603.1,235.2 602.5,234.4 601.8,233.6 601.2,232.8 600.6,232.0 600.0,231.2 599.3,230.4 598.7,229.6 598.1,228.8 597.5,228.0 596.9,227.2 596.3,226.4 595.7,225.6 595.1,224.8 594.5,224.0 593.9,223.2 593.3,222.3 592.7,221.5 592.1,220.7 591.5,219.9 590.9,219.1 590.4,218.2 589.8,217.4 589.2,216.6 588.6,215.8 588.1,215.0 587.5,214.1 586.9,213.3 586.3,212.5 585.8,211.6 585.2,210.8 584.6,210.0 584.1,209.1 583.5,208.3 583.0,207.5 582.4,206.6 581.9,205.8 581.3,205.0 580.8,204.1 580.2,203.3 579.7,202.4 579.2,201.6 578.6,200.7 578.1,199.9 577.6,199.0 577.1,198.2 576.5,197.3 576.0,196.5 575.5,195.6 575.0,194.8 574.5,193.9 573.9,193.1 573.4,192.2 572.9,191.4 572.4,190.5 571.9,189.6 571.4,188.8 570.9,187.9 570.3,187.1 569.8,186.2 569.3,185.3 568.8,184.5 568.3,183.6 567.8,182.7 567.3,181.9 566.9,181.0 566.4,180.1 565.9,179.3 565.4,178.4 564.9,177.5 564.4,176.7 563.9,175.8 563.5,174.9 563.0,174.1 562.5,173.2 562.0,172.3 561.6,171.4 561.1,170.5 560.6,169.7 560.2,168.8 559.7,167.9 559.2,167.0 558.8,166.1 558.3,165.3 557.8,164.4 557.4,163.5 556.9,162.6 556.5,161.7 556.0,160.8 555.6,159.9 555.1,159.1 554.7,158.2 554.3,157.3 553.8,156.4 553.4,155.5 552.9,154.6 552.5,153.7 552.1,152.8 551.6,151.9 551.2,151.0 550.8,150.1 550.3,149.2 549.9,148.3 549.5,147.4 549.1,146.5 548.7,145.6 548.2,144.7 547.8,143.8 547.4,142.9 547.0,142.0 546.6,141.1 546.2,140.2 545.8,139.3 545.4,138.4 544.9,137.5 544.5,136.6 544.1,135.7 543.7,134.7 543.3,133.8 542.9,132.9 542.5,132.0 542.2,131.1 541.8,130.2 541.4,129.3 541.0,128.3 540.6,127.4 540.2,126.5 539.8,125.6 539.4,124.7 539.1,123.8 538.7,122.8 538.3,121.9 537.9,121.0 537.6,120.1 537.2,119.2 536.8,118.2 536.4,117.3 536.1,116.4 535.7,115.5 535.3,114.5 535.0,113.6 534.6,112.7 534.2,111.8 533.9,110.8 533.5,109.9 533.2,109.0 532.8,108.0 532.4,107.1 532.1,106.2 531.7,105.2 531.4,104.3 531.0,103.4 530.7,102.4 530.3,101.5 530.0,100.6 529.6,99.6 529.3,98.7 528.9,97.8 528.6,96.8 528.3,95.9 527.9,95.0 527.6,94.0 527.3,93.1 526.9,92.1 526.6,91.2 526.3,90.3 525.9,89.3 525.6,88.4 525.3,87.4 524.9,86.5 524.6,85.5 524.3,84.6 524.0,83.7 523.7,82.7 523.3,81.8 523.0,80.8 522.7,79.9 522.4,78.9 522.1,78.0 521.8,77.0 521.4,76.1 521.1,75.1 520.8,74.2 520.5,73.2 520.2,72.3 519.9,71.3 519.6,70.4 519.3,69.4 519.0,68.5 518.7,67.5 518.4,66.6 518.1,65.6 517.8,64.6 517.5,63.7 517.2,62.7 516.9,61.8 516.6,60.8 516.3,59.9 516.1,58.9 515.8,58.0 515.5,57.0 515.2,56.0 514.9,55.1 514.6,54.1 514.3,53.2 514.1,52.2 513.8,51.2 513.5,50.3 513.2,49.3 513.0,48.3 512.7,47.4 512.4,46.4 512.1,45.5 511.9,44.5 511.6,43.5 511.3,42.6 511.0,41.6 510.8,40.6 510.5,39.7 510.2,38.7 510.0,37.7 509.7,36.8 509.4,35.8 509.2,34.8 508.9,33.9 508.7,32.9 508.4,31.9 508.1,31.0 507.9,30.0 507.6,29.0 507.4,28.1 507.1,27.1 506.9,26.1 506.6,25.2 506.4,24.2 506.1,23.2 505.9,22.2 505.6,21.3 505.4,20.3 505.1,19.3 504.9,18.4 504.7,17.4 504.4,16.4 504.2,15.4 503.9,14.5 503.7,13.5 503.5,12.5 503.2,11.5 503.0,10.6 502.8,9.6 502.5,8.6 502.3,7.6 502.1,6.7 501.8,5.7 501.6,4.7 501.4,3.7 501.2,2.8 500.9,1.8 500.7,0.8 500.5,-0.2"/>
<polygon fill="#00ff00" points="425.2,269.5 426.2,269.4 427.2,269.3 428.1,269.2 429.1,269.1 430.1,269.0 431.1,269.0 432.1,268.9 433.1,268.8 434.0,268.7 435.0,268.6 436.0,268.5 437.0,268.5 438.0,268.4 439.0,268.3 440.0,268.2 441.0,268.2 442.0,268.1 442.9,268.0 443.9,267.9 444.9,267.9 445.9,267.8 446.9,267.7 447.9,267.7 448.9,267.6 449.9,267.5 450.9,267.5 451.9,267.4 452.9,267.3 453.9,267.3 454.9,267.2 455.9,267.1 456.9,267.1 457.9,267.0 458.9,267.0 459.9,266.9 460.9,266.8 461.9,266.8 462.9,266.7 463.9,266.6 464.9,266.6 465.9,266.5 466.9,266.5 467.9,266.4 468.9,266.3 470.0,266.3 471.0,266.2 472.0,266.1 473.0,266.1 474.0,266.0 475.0,265.9 476.0,265.9 477.0,265.8 478.0,265.7 479.0,265.6 480.0,265.6 481.0,265.5 482.0,265.4 483.0,265.3 484.0,265.3 485.0,265.2 486.0,265.1 487.0,265.0 488.0,264.9 489.0,264.8 490.0,264.8 491.0,264.7 492.0,264.6 493.0,264.5 494.1,264.4 495.1,264.3 496.1,264.2 497.1,264.1 498.1,264.0 499.1,263.9 500.1,263.8 501.1,263.7 502.1,263.6 503.1,263.4 504.1,263.3 505.0,263.2 506.0,263.1 507.0,262.9 508.0,262.8 509.0,262.7 510.0,262.6 511.0,262.4 512.0,262.3 513.0,262.1 514.0,262.0 515.0,261.9 516.0,261.7 517.0,261.6 518.0,261.4 519.0,261.2 520.0,261.1 520.9,260.9 521.9,260.7 522.9,260.6 523.9,260.4 524.9,260.2 525.9,260.0 526.9,259.8 527.9,259.6 528.8,259.4 529.8,259.2 530.8,259.0 531.8,258.8 532.8,258.6 533.8,258.4 534.7,258.2 535.7,257.9 536.7,257.7 537.7,257.5 538.6,257.2 539.6,256.9 540.6,256.6 541.5,256.4 542.5,256.1 543.5,255.8 544.4,255.5 545.4,255.2 546.3,254.8 547.3,254.5 548.3,254.2 549.2,253.9 550.2,253.5 551.1,253.2 552.1,252.8 553.0,252.5 553.9,252.1 554.9,251.8 555.8,251.4 556.8,251.1 557.7,250.7 558.6,250.3 559.6,249.9 560.5,249.6 561.4,249.2 562.4,248.8 563.3,248.4 564.2,248.0 565.2,247.6 566.1,247.2 567.0,246.8 568.0,246.4 568.9,246.0 569.8,245.6 570.7,245.1 571.7,244.7 572.6,244.3 573.5,243.9 574.4,243.5 575.3,243.0 576.3,242.6 577.2,242.2 578.1,241.8 579.0,241.3 579.9,240.9 580.9,240.5 581.8,240.0 582.7,239.6 583.6,239.2 584.5,238.7 585.5,238.3 586.4,237.8 587.3,237.4 588.2,237.0 589.1,236.5 590.0,236.1 591.0,235.6 591.9,235.2 592.8,234.7 593.7,234.3 594.6,233.8 595.5,233.4 596.4,232.9 597.4,232.5 598.3,232.0 599.2,231.6 600.1,231.2 601.0,230.7 601.9,230.3 602.8,229.9 603.7,229.6 604.6,229.2 605.5,228.8 606.4,228.5 607.3,228.2 608.2,228.0 609.0,227.7 609.9,227.5 610.7,227.3 611.6,227.1 612.5,227.0 613.3,226.9 614.2,226.8 615.0,226.8 615.9,226.8 616.7,226.8 617.6,226.9 618.4,226.9 619.3,227.0 620.2,227.1 621.0,227.2 621.9,227.4 622.7,227.6 623.6,227.8 624.5,228.0 625.3,228.2 626.2,228.5 627.1,228.8 628.0,229.1 628.8,229.4 629.7,229.7 630.6,230.1 631.4,230.5 632.3,230.9 633.1,231.3 634.0,231.8 634.8,232.3 635.6,232.8 636.4,233.4 637.2,234.0 638.0,234.6 638.8,235.2 639.5,235.8 640.3,236.5 641.0,237.1 641.8,237.8 642.5,238.5 643.2,239.2 643.9,240.0 644.5,240.7 645.2,241.5 645.8,242.2 646.5,243.0 647.1,243.8 647.7,244.6 648.3,245.5 648.9,246.3 649.4,247.1 650.0,248.0 650.6,248.9 651.1,249.7 651.7,250.6 652.2,251.5 652.7,252.3 653.3,253.2 653.8,254.1 654.3,255.0 654.8,255.8 655.4,256.7 655.9,257.6 656.4,258.4 657.0,259.3 657.5,260.1 658.1,261.0 658.6,261.8 659.2,262.6 659.8,263.5 660.4,264.3 661.0,265.0 661.6,265.8 662.2,266.6 662.9,267.3 663.5,268.0 664.2,268.7 664.9,269.4 665.6,270.1 666.4,270.7 667.1,271.3 667.9,271.9 668.7,272.5 669.6,273.0 670.2,273.4 670.6,272.7 670.0,272.3 669.2,271.8 668.5,271.2 667.7,270.6 667.0,270.0 666.3,269.4 665.6,268.7 664.9,268.0 664.3,267.3 663.7,266.6 663.0,265.9 662.4,265.1 661.9,264.4 661.3,263.6 660.7,262.8 660.2,262.0 659.6,261.2 659.1,260.3 658.6,259.5 658.1,258.6 657.5,257.8 657.0,256.9 656.5,256.0 656.0,255.1 655.5,254.3 655.0,253.4 654.5,252.5 654.0,251.6 653.5,250.7 653.0,249.8 652.5,248.9 652.0,248.0 651.5,247.1 651.0,246.2 650.4,245.3 649.9,244.4 649.3,243.5 648.7,242.7 648.1,241.8 647.5,240.9 646.9,240.1 646.3,239.3 645.6,238.4 645.0,237.6 644.3,236.8 643.6,236.1 642.8,235.3 642.1,234.5 641.4,233.8 640.6,233.1 639.8,232.4 639.1,231.7 638.3,231.0 637.4,230.3 636.6,229.7 635.8,229.1 635.0,228.4 634.1,227.9 633.2,227.3 632.4,226.7 631.5,226.2 630.6,225.6 629.7,225.1 628.8,224.7 627.8,224.2 626.9,223.8 625.9,223.4 625.0,223.1 624.0,222.8 623.0,222.5 622.0,222.2 621.0,222.0 620.0,221.8 619.0,221.7 617.9,221.6 616.9,221.5 615.9,221.5 614.9,221.6 613.8,221.6 612.8,221.7 611.8,221.8 610.7,222.0 609.7,222.2 608.7,222.4 607.7,222.7 606.7,223.0 605.7,223.3 604.7,223.6 603.7,224.0 602.7,224.3 601.7,224.7 600.8,225.1 599.8,225.5 598.9,226.0 597.9,226.4 597.0,226.8 596.0,227.2 595.1,227.7 594.2,228.1 593.2,228.5 592.3,229.0 591.4,229.4 590.5,229.8 589.5,230.2 588.6,230.7 587.7,231.1 586.8,231.5 585.8,231.9 584.9,232.4 584.0,232.8 583.1,233.2 582.1,233.7 581.2,234.1 580.3,234.5 579.4,235.0 578.5,235.4 577.6,235.8 576.7,236.3 575.7,236.7 574.8,237.1 573.9,237.5 573.0,238.0 572.1,238.4 571.2,238.8 570.3,239.2 569.3,239.6 568.4,240.0 567.5,240.4 566.6,240.9 565.7,241.3 564.8,241.7 563.9,242.1 563.0,242.5 562.0,242.9 561.1,243.2 560.2,243.6 559.3,244.0 558.4,244.4 557.5,244.8 556.5,245.2 555.6,245.5 554.7,245.9 553.8,246.3 552.9,246.6 552.0,247.0 551.0,247.3 550.1,247.7 549.2,248.0 548.3,248.4 547.4,248.7 546.4,249.1 545.5,249.4 544.6,249.7 543.7,250.0 542.7,250.4 541.8,250.7 540.9,251.0 540.0,251.3 539.0,251.6 538.1,251.9 537.2,252.2 536.2,252.5 535.3,252.7 534.4,253.0 533.4,253.3 532.5,253.6 531.6,253.9 530.6,254.2 529.7,254.4 528.7,254.7 527.8,255.0 526.8,255.2 525.9,255.5 524.9,255.7 524.0,255.9 523.0,256.2 522.1,256.4 521.1,256.6 520.1,256.8 519.2,257.0 518.2,257.3 517.3,257.5 516.3,257.7 515.3,257.9 514.3,258.1 513.4,258.2 512.4,258.4 511.4,258.6 510.5,258.8 509.5,258.9 508.5,259.1 507.5,259.3 506.5,259.4 505.6,259.6 504.6,259.7 503.6,259.9 502.6,260.0 501.6,260.1 500.6,260.3 499.7,260.4 498.7,260.5 497.7,260.7 496.7,260.8 495.7,260.9 494.7,261.0 493.7,261.1 492.7,261.3 491.7,261.4 490.7,261.5 489.7,261.6 488.7,261.7 487.7,261.8 486.7,261.9 485.7,262.0 484.8,262.1 483.8,262.2 482.8,262.2 481.8,262.3 480.8,262.4 479.8,262.5 478.8,262.6 477.8,262.7 476.8,262.8 475.8,262.8 474.8,262.9 473.8,263.0 472.8,263.1 471.8,263.1 470.7,263.2 469.7,263.3 468.7,263.4 467.7,263.4 466.7,263.5 465.7,263.6 464.7,263.7 463.7,263.7 462.7,263.8 461.7,263.9 460.7,263.9 459.7,264.0 458.7,264.1 457.7,264.1 456.7,264.2 455.7,264.3 454.7,264.4 453.7,264.4 452.7,264.5 451.7,264.6 450.7,264.6 449.7,264.7 448.7,264.8 447.7,264.9 446.7,264.9 445.7,265.0 444.7,265.1 443.7,265.2 442.7,265.3 441.7,265.3 440.7,265.4 439.8,265.5 438.8,265.6 437.8,265.7 436.8,265.8 435.8,265.9 434.8,266.0 433.8,266.1 432.8,266.2 431.8,266.3 430.8,266.4 429.8,266.5 428.9,266.6 427.9,266.7 426.9,266.8 425.9,266.9 424.9,267.0"/>
<polygon fill="#32cd32" points="500.1,0.3 500.3,1.2 500.5,2.2 500.8,3.2 501.0,4.2 501.2,5.1 501.4,6.1 501.7,7.1 501.9,8.1 502.1,9.0 502.4,10.0 502.6,11.0 502.8,11.9 503.1,12.9 503.3,13.9 503.5,14.9 503.8,15.8 504.0,16.8 504.2,17.8 504.5,18.8 504.7,19.7 505.0,20.7 505.2,21.7 505.5,22.6 505.7,23.6 505.9,24.6 506.2,25.6 506.4,26.5 506.7,27.5 506.9,28.5 507.2,29.4 507.5,30.4 507.7,31.4 508.0,32.3 508.2,33.3 508.5,34.3 508.8,35.2 509.0,36.2 509.3,37.2 509.5,38.1 509.8,39.1 510.1,40.1 510.3,41.0 510.6,42.0 510.9,43.0 511.2,43.9 511.4,44.9 511.7,45.9 512.0,46.8 512.3,47.8 512.5,48.8 512.8,49.7 513.1,50.7 513.4,51.7 513.7,52.6 514.0,53.6 514.3,54.5 514.5,55.5 514.8,56.5 515.1,57.4 515.4,58.4 515.7,59.3 516.0,60.3 516.3,61.3 516.6,62.2 516.9,63.2 517.2,64.1 517.5,65.1 517.8,66.1 518.1,67.0 518.4,68.0 518.7,68.9 519.0,69.9 519.3,70.8 519.7,71.8 520.0,72.7 520.3,73.7 520.6,74.6 520.9,75.6 521.2,76.5 521.6,77.5 521.9,78.4 522.2,79.4 522.5,80.3 522.9,81.3 523.2,82.2 523.5,83.2 523.8,84.1 524.2,85.1 524.5,86.0 524.8,87.0 525.2,87.9 525.5,88.9 525.9,89.8 526.2,90.8 526.5,91.7 526.9,92.6 527.2,93.6 527.6,94.5 527.9,95.5 528.3,96.4 528.6,97.3 529.0,98.3 529.3,99.2 529.7,100.2 530.1,101.1 530.4,102.0 530.8,103.0 531.1,103.9 531.5,104.8 531.9,105.8 532.2,106.7 532.6,107.6 533.0,108.6 533.4,109.5 533.7,110.4 534.1,111.4 534.5,112.3 534.9,113.2 535.2,114.1 535.6,115.1 536.0,116.0 536.4,116.9 536.8,117.8 537.2,118.8 537.6,119.7 537.9,120.6 538.3,121.5 538.7,122.4 539.1,123.4 539.5,124.3 539.9,125.2 540.3,126.1 540.7,127.0 541.1,128.0 541.5,128.9 541.9,129.8 542.4,130.7 542.8,131.6 543.2,132.5 543.6,133.4 544.0,134.3 544.4,135.3 544.9,136.2 545.3,137.1 545.7,138.0 546.1,138.9 546.5,139.8 547.0,140.7 547.4,141.6 547.8,142.5 548.3,143.4 548.7,144.3 549.1,145.2 549.6,146.1 550.0,147.0 550.5,147.9 550.9,148.8 551.4,149.7 551.8,150.6 552.3,151.5 552.7,152.4 553.2,153.3 553.6,154.2 554.1,155.0 554.5,155.9 555.0,156.8 555.4,157.7 555.9,158.6 556.4,159.5 556.8,160.4 557.3,161.3 557.8,162.1 558.3,163.0 558.7,163.9 559.2,164.8 559.7,165.7 560.2,166.5 560.6,167.4 561.1,168.3 561.6,169.2 562.1,170.0 562.6,170.9 563.1,171.8 563.6,172.6 564.1,173.5 564.6,174.4 565.1,175.2 565.6,176.1 566.1,177.0 566.6,177.8 567.1,178.7 567.6,179.6 568.1,180.4 568.6,181.3 569.1,182.1 569.6,183.0 570.2,183.9 570.7,184.7 571.2,185.6 571.7,186.4 572.3,187.3 572.8,188.1 573.3,189.0 573.8,189.8 574.4,190.7 574.9,191.5 575.5,192.3 576.0,193.2 576.5,194.0 577.1,194.9 577.6,195.7 578.2,196.5 578.7,197.4 579.3,198.2 579.9,199.0 580.5,199.8 581.0,200.7 581.6,201.5 582.2,202.3 582.8,203.1 583.4,203.9 583.9,204.7 584.5,205.6 585.1,206.4 585.7,207.2 586.2,208.0 586.8,208.8 587.4,209.7 588.0,210.5 588.6,211.3 589.2,212.1 589.7,212.9 590.3,213.7 590.9,214.5 591.5,215.3 592.1,216.2 592.7,217.0 593.3,217.8 593.9,218.6 594.5,219.4 595.1,220.2 595.7,221.0 596.3,221.8 597.0,222.6 597.6,223.4 598.2,224.2 598.8,224.9 599.4,225.7 600.1,226.5 600.7,227.3 601.3,228.1 601.9,228.9 602.6,229.7 603.2,230.5 603.8,231.2 604.5,232.0 605.1,232.8 605.8,233.6 606.4,234.3 607.1,235.1 607.7,235.9 608.4,236.7 609.0,237.4 609.7,238.2 610.3,239.0 611.0,239.7 611.7,240.5 612.3,241.2 613.0,242.0 613.7,242.7 614.4,243.5 615.0,244.2 615.7,245.0 616.4,245.7 617.1,246.4 617.8,247.2 618.5,247.9 619.2,248.6 619.9,249.3 620.7,250.0 621.4,250.7 622.1,251.4 622.8,252.1 623.6,252.8 624.3,253.5 625.1,254.2 625.8,254.9 626.5,255.6 627.3,256.2 628.0,256.9 628.8,257.6 629.5,258.2 630.3,258.9 631.1,259.5 631.8,260.2 632.6,260.8 633.4,261.4 634.2,262.0 635.1,262.6 635.9,263.1 636.7,263.7 637.5,264.2 638.4,264.8 639.2,265.3 640.1,265.8 640.9,266.3 641.8,266.8 642.6,267.3 643.5,267.8 644.3,268.3 645.2,268.7 646.1,269.2 647.0,269.6 647.9,270.0 648.8,270.4 649.7,270.8 650.6,271.1 651.5,271.5 652.4,271.8 653.4,272.1 654.3,272.4 655.3,272.7 656.3,272.9 657.2,273.1 658.2,273.3 659.2,273.5 660.2,273.7 661.3,273.8 662.3,273.9 663.3,274.0 664.4,274.1 664.9,274.1 664.9,273.1 664.4,273.1 663.4,273.0 662.4,272.9 661.4,272.8 660.4,272.7 659.4,272.5 658.4,272.4 657.5,272.2 656.5,271.9 655.6,271.7 654.6,271.4 653.7,271.2 652.8,270.9 651.8,270.5 650.9,270.2 650.0,269.8 649.1,269.5 648.3,269.1 647.4,268.7 646.5,268.3 645.7,267.8 644.8,267.4 644.0,266.9 643.1,266.4 642.3,265.9 641.5,265.4 640.7,264.9 639.9,264.3 639.1,263.8 638.3,263.2 637.5,262.6 636.7,262.0 636.0,261.3 635.2,260.7 634.5,260.1 633.7,259.5 633.0,258.8 632.2,258.2 631.5,257.5 630.7,256.9 630.0,256.2 629.2,255.6 628.5,254.9 627.7,254.2 627.0,253.6 626.3,252.9 625.6,252.2 624.9,251.5 624.2,250.8 623.5,250.1 622.8,249.3 622.1,248.6 621.4,247.9 620.7,247.2 620.0,246.5 619.3,245.7 618.6,245.0 618.0,244.3 617.3,243.5 616.6,242.8 615.9,242.1 615.2,241.3 614.6,240.6 613.9,239.8 613.2,239.1 612.6,238.3 611.9,237.6 611.3,236.8 610.6,236.1 610.0,235.3 609.3,234.5 608.7,233.8 608.0,233.0 607.4,232.2 606.7,231.5 606.1,230.7 605.5,229.9 604.8,229.1 604.2,228.4 603.6,227.6 602.9,226.8 602.3,226.0 601.7,225.2 601.1,224.4 600.5,223.7 599.8,222.9 599.2,222.1 598.6,221.3 598.0,220.5 597.4,219.7 596.8,218.9 596.2,218.1 595.6,217.3 595.0,216.5 594.4,215.7 593.8,214.9 593.2,214.1 592.6,213.3 592.0,212.5 591.4,211.7 590.9,210.9 590.3,210.1 589.7,209.3 589.1,208.4 588.5,207.6 588.0,206.8 587.4,206.0 586.8,205.2 586.3,204.4 585.7,203.5 585.1,202.7 584.6,201.9 584.1,201.0 583.5,200.2 583.0,199.4 582.5,198.5 581.9,197.7 581.4,196.8 580.9,196.0 580.3,195.1 579.8,194.3 579.3,193.5 578.7,192.6 578.2,191.8 577.6,191.0 577.1,190.1 576.6,189.3 576.0,188.4 575.5,187.6 575.0,186.7 574.5,185.9 573.9,185.1 573.4,184.2 572.9,183.4 572.4,182.5 571.9,181.7 571.4,180.8 570.8,179.9 570.3,179.1 569.8,178.2 569.3,177.4 568.8,176.5 568.3,175.7 567.8,174.8 567.3,173.9 566.8,173.1 566.3,172.2 565.8,171.4 565.4,170.5 564.9,169.6 564.4,168.8 563.9,167.9 563.4,167.0 562.9,166.1 562.4,165.3 562.0,164.4 561.5,163.5 561.0,162.7 560.5,161.8 560.1,160.9 559.6,160.0 559.1,159.1 558.7,158.3 558.2,157.4 557.8,156.5 557.3,155.6 556.8,154.7 556.4,153.9 555.9,153.0 555.5,152.1 555.0,151.2 554.6,150.3 554.1,149.4 553.7,148.5 553.2,147.6 552.8,146.7 552.4,145.9 551.9,145.0 551.5,144.1 551.0,143.2 550.6,142.3 550.2,141.4 549.8,140.5 549.3,139.6 548.9,138.7 548.5,137.8 548.1,136.9 547.6,136.0 547.2,135.1 546.8,134.2 546.4,133.3 546.0,132.4 545.6,131.4 545.1,130.5 544.7,129.6 544.3,128.7 543.9,127.8 543.5,126.9 543.1,126.0 542.7,125.1 542.3,124.2 541.9,123.3 541.5,122.3 541.1,121.4 540.7,120.5 540.3,119.6 539.9,118.7 539.6,117.8 539.2,116.8 538.8,115.9 538.4,115.0 538.0,114.1 537.6,113.1 537.3,112.2 536.9,111.3 536.5,110.4 536.1,109.4 535.8,108.5 535.4,107.6 535.0,106.7 534.7,105.7 534.3,104.8 533.9,103.9 533.6,103.0 533.2,102.0 532.8,101.1 532.5,100.2 532.1,99.2 531.8,98.3 531.4,97.4 531.1,96.4 530.7,95.5 530.4,94.6 530.0,93.6 529.7,92.7 529.3,91.7 529.0,90.8 528.6,89.9 528.3,88.9 528.0,88.0 527.6,87.0 527.3,86.1 527.0,85.2 526.6,84.2 526.3,83.3 526.0,82.3 525.6,81.4 525.3,80.4 525.0,79.5 524.7,78.6 524.3,77.6 524.0,76.7 523.7,75.7 523.4,74.8 523.1,73.8 522.8,72.9 522.4,71.9 522.1,71.0 521.8,70.0 521.5,69.1 521.2,68.1 520.9,67.2 520.6,66.2 520.3,65.3 520.0,64.3 519.7,63.4 519.4,62.4 519.1,61.4 518.8,60.5 518.5,59.5 518.2,58.6 517.9,57.6 517.6,56.7 517.3,55.7 517.0,54.8 516.7,53.8 516.5,52.8 516.2,51.9 515.9,50.9 515.6,50.0 515.3,49.0 515.0,48.0 514.8,47.1 514.5,46.1 514.2,45.2 513.9,44.2 513.7,43.2 513.4,42.3 513.1,41.3 512.9,40.3 512.6,39.4 512.3,38.4 512.1,37.5 511.8,36.5 511.5,35.5 511.3,34.6 511.0,33.6 510.7,32.6 510.5,31.7 510.2,30.7 510.0,29.7 509.7,28.8 509.5,27.8 509.2,26.8 509.0,25.9 508.7,24.9 508.5,23.9 508.2,23.0 508.0,22.0 507.7,21.0 507.5,20.1 507.2,19.1 507.0,18.1 506.8,17.2 506.5,16.2 506.3,15.2 506.0,14.3 505.8,13.3 505.6,12.3 505.3,11.3 505.1,10.4 504.9,9.4 504.7,8.4 504.4,7.5 504.2,6.5 504.0,5.5 503.7,4.5 503.5,3.6 503.3,2.6 503.1,1.6 502.9,0.7 502.6,-0.3"/>
<polygon fill="#ff00ff" points="483.7,0.1 484.0,1.1 484.2,2.1 484.5,3.1 484.7,4.1 485.0,5.1 485.2,6.1 485.5,7.1 485.7,8.0 486.0,9.0 486.2,10.0 486.5,11.0 486.7,12.0 487.0,13.0 487.2,14.0 487.5,14.9 487.7,15.9 488.0,16.9 488.2,17.9 488.5,18.9 488.7,19.8 489.0,20.8 489.2,21.8 489.5,22.8 489.7,23.7 490.0,24.7 490.2,25.7 490.5,26.7 490.8,27.6 491.0,28.6 491.3,29.6 491.6,30.5 491.8,31.5 492.1,32.5 492.3,33.4 492.6,34.4 492.9,35.4 493.1,36.3 493.4,37.3 493.7,38.2 493.9,39.2 494.2,40.2 494.5,41.1 494.7,42.1 495.0,43.0 495.3,44.0 495.5,45.0 495.8,45.9 496.1,46.9 496.3,47.8 496.6,48.8 496.9,49.7 497.2,50.7 497.4,51.7 497.7,52.6 498.0,53.6 498.2,54.5 498.5,55.5 498.8,56.4 499.1,57.4 499.3,58.3 499.6,59.3 499.9,60.2 500.2,61.2 500.4,62.1 500.7,63.1 501.0,64.0 501.3,65.0 501.6,65.9 501.8,66.9 502.1,67.8 502.4,68.8 502.7,69.7 503.0,70.7 503.3,71.6 503.6,72.6 503.8,73.5 504.1,74.5 504.4,75.4 504.7,76.3 505.0,77.3 505.3,78.2 505.6,79.2 505.9,80.1 506.2,81.1 506.5,82.0 506.7,83.0 507.0,83.9 507.3,84.9 507.6,85.8 507.9,86.7 508.2,87.7 508.5,88.6 508.8,89.6 509.1,90.5 509.4,91.5 509.8,92.4 510.1,93.3 510.4,94.3 510.7,95.2 511.0,96.2 511.3,97.1 511.6,98.0 511.9,99.0 512.3,99.9 512.6,100.9 512.9,101.8 513.2,102.7 513.5,103.7 513.9,104.6 514.2,105.6 514.5,106.5 514.8,107.4 515.2,108.4 515.5,109.3 515.8,110.3 516.1,111.2 516.5,112.2 516.8,113.1 517.1,114.0 517.4,115.0 517.8,115.9 518.1,116.9 518.4,117.8 518.8,118.8 519.1,119.7 519.4,120.6 519.8,121.6 520.1,122.5 520.4,123.5 520.8,124.4 521.1,125.4 521.4,126.3 521.8,127.3 522.1,128.2 522.4,129.2 522.8,130.1 523.1,131.1 523.5,132.0 523.8,133.0 524.2,133.9 524.5,134.9 524.9,135.8 525.2,136.8 525.6,137.7 525.9,138.7 526.3,139.6 526.6,140.6 527.0,141.5 527.3,142.4 527.7,143.4 528.0,144.3 528.4,145.3 528.8,146.2 529.1,147.2 529.5,148.1 529.9,149.1 530.2,150.0 530.6,151.0 531.0,151.9 531.4,152.8 531.7,153.8 532.1,154.7 532.5,155.7 532.9,156.6 533.3,157.5 533.7,158.5 534.1,159.4 534.4,160.3 534.8,161.3 535.2,162.2 535.6,163.1 536.0,164.1 536.4,165.0 536.8,165.9 537.2,166.9 537.6,167.8 538.1,168.7 538.5,169.7 538.9,170.6 539.3,171.5 539.7,172.4 540.1,173.4 540.6,174.3 541.0,175.2 541.4,176.1 541.8,177.0 542.3,177.9 542.7,178.9 543.2,179.8 543.6,180.7 544.0,181.6 544.5,182.5 544.9,183.4 545.4,184.3 545.8,185.2 546.3,186.1 546.7,187.0 547.2,187.9 547.7,188.8 548.1,189.7 548.6,190.6 549.1,191.5 549.6,192.4 550.0,193.3 550.5,194.1 551.0,195.0 551.5,195.9 552.0,196.8 552.5,197.7 553.0,198.6 553.5,199.4 554.0,200.3 554.5,201.2 555.0,202.0 555.5,202.9 556.0,203.8 556.5,204.6 557.0,205.5 557.6,206.3 558.1,207.2 558.6,208.0 559.1,208.9 559.7,209.7 560.2,210.6 560.8,211.4 561.3,212.3 561.9,213.1 562.4,213.9 563.0,214.8 563.5,215.6 564.1,216.4 564.7,217.3 565.2,218.1 565.8,218.9 566.4,219.7 567.0,220.5 567.6,221.3 568.2,222.1 568.8,222.9 569.4,223.7 570.0,224.5 570.6,225.3 571.2,226.1 571.8,226.9 572.4,227.7 573.1,228.5 573.7,229.2 574.3,230.0 574.9,230.8 575.6,231.6 576.2,232.3 576.8,233.1 577.5,233.9 578.1,234.6 578.8,235.4 579.5,236.1 580.1,236.9 580.8,237.6 581.5,238.4 582.1,239.1 582.8,239.8 583.5,240.5 584.2,241.3 584.9,242.0 585.6,242.7 586.3,243.4 587.0,244.1 587.7,244.8 588.4,245.5 589.1,246.2 589.9,246.9 590.6,247.5 591.3,248.2 592.0,248.9 592.8,249.5 593.5,250.2 594.3,250.8 595.0,251.5 595.8,252.1 596.6,252.7 597.3,253.3 598.1,253.9 598.9,254.5 599.7,255.1 600.5,255.7 601.3,256.3 602.1,256.9 602.9,257.5 603.7,258.0 604.5,258.6 605.3,259.1 606.1,259.7 607.0,260.2 607.8,260.7 608.6,261.2 609.5,261.7 610.3,262.2 611.2,262.7 612.1,263.2 612.9,263.7 613.8,264.1 614.7,264.6 615.6,265.0 616.4,265.5 617.3,265.9 618.2,266.3 619.1,266.7 620.1,267.1 621.0,267.5 621.9,267.9 622.8,268.3 623.8,268.6 624.7,269.0 625.6,269.3 626.6,269.6 627.5,269.9 628.5,270.3 629.5,270.5 630.4,270.8 631.4,271.1 632.4,271.4 633.4,271.6 634.4,271.9 635.4,272.1 636.4,272.3 637.4,272.5 638.4,272.7 639.4,272.9 640.5,273.0 641.5,273.2 642.6,273.3 643.6,273.5 644.7,273.6 645.7,273.7 646.8,273.8 647.9,273.9 648.9,273.9 650.0,274.0 650.3,274.0 650.4,273.1 650.1,273.1 649.0,273.0 647.9,272.9 646.9,272.9 645.8,272.8 644.8,272.7 643.7,272.5 642.7,272.4 641.6,272.3 640.6,272.1 639.6,271.9 638.6,271.8 637.6,271.6 636.6,271.4 635.6,271.2 634.6,270.9 633.6,270.7 632.6,270.4 631.7,270.2 630.7,269.9 629.7,269.6 628.8,269.3 627.8,269.0 626.9,268.7 625.9,268.4 625.0,268.1 624.1,267.7 623.2,267.4 622.2,267.0 621.3,266.6 620.4,266.3 619.5,265.9 618.6,265.5 617.7,265.0 616.9,264.6 616.0,264.2 615.1,263.8 614.2,263.3 613.4,262.8 612.5,262.4 611.7,261.9 610.8,261.4 610.0,260.9 609.1,260.4 608.3,259.9 607.5,259.4 606.7,258.9 605.8,258.3 605.0,257.8 604.2,257.2 603.4,256.7 602.6,256.1 601.8,255.6 601.0,255.0 600.3,254.4 599.5,253.8 598.7,253.2 597.9,252.6 597.2,252.0 596.4,251.4 595.7,250.7 594.9,250.1 594.2,249.5 593.4,248.8 592.7,248.2 591.9,247.5 591.2,246.8 590.5,246.2 589.8,245.5 589.1,244.8 588.4,244.1 587.7,243.4 586.9,242.7 586.3,242.0 585.6,241.3 584.9,240.6 584.2,239.9 583.5,239.2 582.8,238.4 582.2,237.7 581.5,237.0 580.8,236.2 580.2,235.5 579.5,234.8 578.9,234.0 578.2,233.2 577.6,232.5 576.9,231.7 576.3,231.0 575.7,230.2 575.0,229.4 574.4,228.6 573.8,227.9 573.2,227.1 572.6,226.3 572.0,225.5 571.4,224.7 570.8,223.9 570.2,223.1 569.6,222.3 569.0,221.5 568.4,220.7 567.9,219.9 567.3,219.1 566.7,218.3 566.2,217.4 565.6,216.6 565.0,215.8 564.5,215.0 563.9,214.1 563.4,213.3 562.8,212.5 562.3,211.6 561.7,210.8 561.2,210.0 560.6,209.1 560.1,208.3 559.6,207.4 559.1,206.6 558.5,205.7 558.0,204.9 557.5,204.0 557.0,203.2 556.5,202.3 556.0,201.5 555.5,200.6 555.0,199.7 554.5,198.9 554.0,198.0 553.5,197.1 553.0,196.2 552.5,195.4 552.0,194.5 551.5,193.6 551.0,192.7 550.6,191.8 550.1,190.9 549.6,190.1 549.2,189.2 548.7,188.3 548.2,187.4 547.8,186.5 547.3,185.6 546.9,184.7 546.4,183.8 546.0,182.9 545.5,182.0 545.1,181.1 544.6,180.2 544.2,179.3 543.8,178.4 543.3,177.4 542.9,176.5 542.5,175.6 542.0,174.7 541.6,173.8 541.2,172.9 540.8,172.0 540.3,171.0 539.9,170.1 539.5,169.2 539.1,168.3 538.7,167.3 538.3,166.4 537.9,165.5 537.5,164.6 537.1,163.6 536.7,162.7 536.3,161.8 535.9,160.8 535.5,159.9 535.1,159.0 534.7,158.0 534.3,157.1 534.0,156.2 533.6,155.2 533.2,154.3 532.8,153.3 532.4,152.4 532.1,151.5 531.7,150.5 531.3,149.6 530.9,148.6 530.6,147.7 530.2,146.8 529.8,145.8 529.5,144.9 529.1,143.9 528.8,143.0 528.4,142.0 528.0,141.1 527.7,140.1 527.3,139.2 527.0,138.3 526.6,137.3 526.3,136.4 525.9,135.4 525.6,134.5 525.2,133.5 524.9,132.6 524.5,131.6 524.2,130.7 523.9,129.7 523.5,128.8 523.2,127.8 522.8,126.9 522.5,125.9 522.2,125.0 521.8,124.1 521.5,123.1 521.2,122.2 520.8,121.2 520.5,120.3 520.2,119.3 519.9,118.4 519.5,117.4 519.2,116.5 518.9,115.5 518.6,114.6 518.3,113.6 517.9,112.7 517.6,111.8 517.3,110.8 517.0,109.9 516.7,108.9 516.4,108.0 516.1,107.0 515.8,106.1 515.5,105.1 515.1,104.2 514.8,103.2 514.5,102.3 514.2,101.4 513.9,100.4 513.6,99.5 513.3,98.5 513.0,97.6 512.7,96.6 512.4,95.7 512.1,94.7 511.8,93.8 511.5,92.9 511.2,91.9 510.9,91.0 510.6,90.0 510.3,89.1 510.1,88.1 509.8,87.2 509.5,86.3 509.2,85.3 508.9,84.4 508.6,83.4 508.3,82.5 508.0,81.5 507.7,80.6 507.4,79.7 507.1,78.7 506.8,77.8 506.5,76.8 506.2,75.9 505.9,74.9 505.7,74.0 505.4,73.0 505.1,72.1 504.8,71.2 504.5,70.2 504.2,69.3 503.9,68.3 503.7,67.4 503.4,66.4 503.1,65.5 502.8,64.5 502.5,63.6 502.3,62.6 502.0,61.7 501.7,60.7 501.4,59.8 501.2,58.8 500.9,57.9 500.6,56.9 500.3,56.0 500.1,55.0 499.8,54.1 499.5,53.1 499.2,52.2 499.0,51.2 498.7,50.3 498.4,49.3 498.2,48.4 497.9,47.4 497.6,46.4 497.4,45.5 497.1,44.5 496.8,43.6 496.6,42.6 496.3,41.7 496.0,40.7 495.8,39.7 495.5,38.8 495.3,37.8 495.0,36.8 494.8,35.9 494.5,34.9 494.2,34.0 494.0,33.0 493.7,32.0 493.5,31.1 493.2,30.1 493.0,29.1 492.7,28.1 492.5,27.2 492.2,26.2 492.0,25.2 491.7,24.3 491.5,23.3 491.2,22.3 491.0,21.3 490.7,20.4 490.4,19.4 490.2,18.4 489.9,17.4 489.7,16.5 489.4,15.5 489.2,14.5 488.9,13.5 488.7,12.5 488.4,11.5 488.2,10.6 488.0,9.6 487.7,8.6 487.5,7.6 487.2,6.6 487.0,5.6 486.7,4.6 486.5,3.7 486.2,2.7 486.0,1.7 485.7,0.7 485.5,-0.3"/>
<polygon fill="#00ffff" points="466.3,0.5 466.5,1.4 466.8,2.3 467.0,3.3 467.2,4.2 467.4,5.2 467.7,6.1 467.9,7.0 468.1,8.0 468.4,8.9 468.6,9.9 468.8,10.8 469.1,11.8 469.3,12.7 469.5,13.6 469.8,14.6 470.0,15.5 470.2,16.5 470.5,17.4 470.7,18.4 470.9,19.3 471.2,20.3 471.4,21.3 471.7,22.2 471.9,23.2 472.1,24.1 472.4,25.1 472.6,26.0 472.9,27.0 473.1,27.9 473.4,28.9 473.6,29.9 473.9,30.8 474.1,31.8 474.4,32.7 474.6,33.7 474.9,34.7 475.1,35.6 475.4,36.6 475.6,37.5 475.9,38.5 476.1,39.5 476.4,40.4 476.6,41.4 476.9,42.4 477.1,43.3 477.4,44.3 477.6,45.3 477.9,46.2 478.2,47.2 478.4,48.2 478.7,49.1 478.9,50.1 479.2,51.1 479.5,52.0 479.7,53.0 480.0,54.0 480.3,54.9 480.5,55.9 480.8,56.9 481.1,57.9 481.3,58.8 481.6,59.8 481.9,60.8 482.2,61.7 482.4,62.7 482.7,63.7 483.0,64.6 483.3,65.6 483.5,66.6 483.8,67.6 484.1,68.5 484.4,69.5 484.6,70.5 484.9,71.4 485.2,72.4 485.5,73.4 485.8,74.4 486.1,75.3 486.3,76.3 486.6,77.3 486.9,78.2 487.2,79.2 487.5,80.2 487.8,81.2 488.1,82.1 488.4,83.1 488.7,84.1 488.9,85.0 489.2,86.0 489.5,87.0 489.8,87.9 490.1,88.9 490.4,89.9 490.7,90.8 491.0,91.8 491.3,92.8 491.6,93.7 491.9,94.7 492.2,95.7 492.5,96.6 492.9,97.6 493.2,98.6 493.5,99.5 493.8,100.5 494.1,101.5 494.4,102.4 494.7,103.4 495.0,104.4 495.3,105.3 495.7,106.3 496.0,107.3 496.3,108.2 496.6,109.2 496.9,110.1 497.3,111.1 497.6,112.1 497.9,113.0 498.2,114.0 498.6,114.9 498.9,115.9 499.2,116.8 499.5,117.8 499.9,118.8 500.2,119.7 500.5,120.7 500.9,121.6 501.2,122.6 501.5,123.5 501.9,124.5 502.2,125.4 502.5,126.4 502.9,127.3 503.2,128.3 503.6,129.2 503.9,130.2 504.3,131.1 504.6,132.1 504.9,133.0 505.3,133.9 505.6,134.9 506.0,135.8 506.4,136.8 506.7,137.7 507.1,138.6 507.4,139.6 507.8,140.5 508.1,141.5 508.5,142.4 508.9,143.3 509.2,144.3 509.6,145.2 510.0,146.1 510.3,147.0 510.7,148.0 511.1,148.9 511.5,149.8 511.9,150.8 512.2,151.7 512.6,152.6 513.0,153.5 513.4,154.4 513.8,155.4 514.2,156.3 514.6,157.2 515.0,158.1 515.3,159.0 515.7,159.9 516.1,160.9 516.6,161.8 517.0,162.7 517.4,163.6 517.8,164.5 518.2,165.4 518.6,166.3 519.0,167.2 519.4,168.1 519.9,169.0 520.3,169.9 520.7,170.8 521.1,171.7 521.6,172.6 522.0,173.5 522.4,174.4 522.9,175.3 523.3,176.2 523.8,177.1 524.2,177.9 524.6,178.8 525.1,179.7 525.6,180.6 526.0,181.5 526.5,182.4 526.9,183.2 527.4,184.1 527.9,185.0 528.3,185.9 528.8,186.7 529.3,187.6 529.8,188.5 530.2,189.3 530.7,190.2 531.2,191.1 531.7,191.9 532.2,192.8 532.7,193.6 533.2,194.5 533.7,195.3 534.2,196.2 534.7,197.1 535.2,197.9 535.7,198.7 536.3,199.6 536.8,200.4 537.3,201.3 537.8,202.1 538.4,203.0 538.9,203.8 539.4,204.6 540.0,205.5 540.5,206.3 541.1,207.1 541.6,207.9 542.2,208.8 542.8,209.6 543.3,210.4 543.9,211.2 544.5,212.0 545.0,212.9 545.6,213.7 546.2,214.5 546.8,215.3 547.4,216.1 548.0,216.9 548.6,217.7 549.2,218.5 549.8,219.3 550.4,220.1 551.0,220.9 551.6,221.7 552.2,222.5 552.8,223.2 553.5,224.0 554.1,224.8 554.7,225.6 555.4,226.4 556.0,227.1 556.7,227.9 557.3,228.7 558.0,229.5 558.6,230.2 559.3,231.0 560.0,231.7 560.6,232.5 561.3,233.2 562.0,234.0 562.7,234.7 563.4,235.5 564.1,236.2 564.8,237.0 565.5,237.7 566.2,238.4 566.9,239.1 567.6,239.8 568.4,240.6 569.1,241.3 569.8,242.0 570.6,242.7 571.3,243.4 572.0,244.1 572.8,244.8 573.5,245.5 574.3,246.1 575.0,246.8 575.8,247.5 576.6,248.1 577.3,248.8 578.1,249.4 578.9,250.1 579.7,250.7 580.5,251.4 581.2,252.0 582.0,252.6 582.8,253.2 583.6,253.8 584.4,254.4 585.3,255.0 586.1,255.6 586.9,256.2 587.7,256.7 588.5,257.3 589.4,257.8 590.2,258.4 591.1,258.9 591.9,259.4 592.7,259.9 593.6,260.5 594.5,261.0 595.3,261.4 596.2,261.9 597.1,262.4 597.9,262.9 598.8,263.3 599.7,263.7 600.6,264.2 601.5,264.6 602.4,265.0 603.3,265.4 604.2,265.8 605.1,266.2 606.0,266.5 606.9,266.9 607.8,267.3 608.8,267.6 609.7,267.9 610.6,268.2 611.5,268.5 612.5,268.8 613.4,269.1 614.4,269.4 615.3,269.6 616.3,269.9 617.3,270.1 618.2,270.4 619.2,270.6 620.2,270.8 621.1,271.0 622.1,271.2 623.1,271.4 624.1,271.6 625.1,271.8 626.1,271.9 627.1,272.1 628.1,272.2 629.1,272.4 630.1,272.5 631.1,272.6 632.1,272.7 633.1,272.8 634.2,272.9 635.2,273.0 636.2,273.1 637.2,273.2 638.3,273.3 639.3,273.3 640.4,273.4 641.4,273.4 642.5,273.5 643.5,273.5 644.6,273.5 645.7,273.6 646.7,273.6 647.8,273.6 648.9,273.6 649.9,273.6 650.5,273.6 650.5,272.7 649.9,272.7 648.9,272.7 647.8,272.7 646.7,272.7 645.7,272.7 644.6,272.6 643.6,272.6 642.5,272.6 641.5,272.5 640.4,272.5 639.4,272.4 638.3,272.4 637.3,272.3 636.3,272.2 635.3,272.1 634.2,272.0 633.2,271.9 632.2,271.8 631.2,271.7 630.2,271.6 629.2,271.5 628.2,271.3 627.2,271.2 626.2,271.0 625.2,270.9 624.2,270.7 623.3,270.5 622.3,270.3 621.3,270.1 620.3,269.9 619.4,269.7 618.4,269.5 617.5,269.3 616.5,269.0 615.6,268.8 614.6,268.5 613.7,268.2 612.8,268.0 611.8,267.7 610.9,267.4 610.0,267.1 609.1,266.7 608.1,266.4 607.2,266.1 606.3,265.7 605.4,265.3 604.5,265.0 603.6,264.6 602.7,264.2 601.9,263.8 601.0,263.4 600.1,262.9 599.2,262.5 598.3,262.1 597.5,261.6 596.6,261.1 595.8,260.7 594.9,260.2 594.1,259.7 593.2,259.2 592.4,258.7 591.5,258.1 590.7,257.6 589.9,257.1 589.0,256.5 588.2,256.0 587.4,255.4 586.6,254.8 585.8,254.3 585.0,253.7 584.2,253.1 583.4,252.5 582.6,251.9 581.8,251.3 581.0,250.7 580.2,250.0 579.5,249.4 578.7,248.8 577.9,248.1 577.2,247.5 576.4,246.8 575.6,246.1 574.9,245.5 574.1,244.8 573.4,244.1 572.7,243.4 571.9,242.7 571.2,242.0 570.5,241.3 569.7,240.6 569.0,239.9 568.3,239.2 567.6,238.5 566.9,237.7 566.2,237.0 565.5,236.3 564.8,235.5 564.1,234.8 563.5,234.0 562.8,233.3 562.1,232.5 561.4,231.8 560.8,231.0 560.1,230.3 559.5,229.5 558.8,228.7 558.1,228.0 557.5,227.2 556.9,226.4 556.2,225.7 555.6,224.9 554.9,224.1 554.3,223.3 553.7,222.6 553.1,221.8 552.5,221.0 551.8,220.2 551.2,219.4 550.6,218.6 550.0,217.8 549.4,217.0 548.8,216.2 548.2,215.4 547.7,214.6 547.1,213.8 546.5,213.0 545.9,212.2 545.4,211.4 544.8,210.6 544.2,209.8 543.7,209.0 543.1,208.1 542.6,207.3 542.0,206.5 541.5,205.7 540.9,204.9 540.4,204.0 539.8,203.2 539.3,202.4 538.8,201.5 538.2,200.7 537.7,199.9 537.2,199.0 536.7,198.2 536.2,197.3 535.7,196.5 535.2,195.6 534.6,194.8 534.1,193.9 533.6,193.1 533.2,192.2 532.7,191.4 532.2,190.5 531.7,189.7 531.2,188.8 530.7,187.9 530.2,187.1 529.8,186.2 529.3,185.3 528.8,184.5 528.4,183.6 527.9,182.7 527.4,181.8 527.0,181.0 526.5,180.1 526.1,179.2 525.6,178.3 525.2,177.5 524.7,176.6 524.3,175.7 523.9,174.8 523.4,173.9 523.0,173.0 522.6,172.1 522.1,171.2 521.7,170.3 521.3,169.4 520.8,168.5 520.4,167.7 520.0,166.8 519.6,165.9 519.2,164.9 518.8,164.0 518.4,163.1 518.0,162.2 517.6,161.3 517.2,160.4 516.8,159.5 516.4,158.6 516.0,157.7 515.6,156.8 515.2,155.9 514.8,154.9 514.4,154.0 514.0,153.1 513.6,152.2 513.2,151.3 512.9,150.3 512.5,149.4 512.1,148.5 511.7,147.6 511.4,146.6 511.0,145.7 510.6,144.8 510.3,143.9 509.9,142.9 509.5,142.0 509.2,141.1 508.8,140.1 508.5,139.2 508.1,138.3 507.7,137.3 507.4,136.4 507.0,135.4 506.7,134.5 506.3,133.6 506.0,132.6 505.6,131.7 505.3,130.7 504.9,129.8 504.6,128.8 504.3,127.9 503.9,126.9 503.6,126.0 503.2,125.1 502.9,124.1 502.6,123.2 502.2,122.2 501.9,121.3 501.6,120.3 501.2,119.3 500.9,118.4 500.6,117.4 500.2,116.5 499.9,115.5 499.6,114.6 499.3,113.6 498.9,112.7 498.6,111.7 498.3,110.7 498.0,109.8 497.7,108.8 497.3,107.9 497.0,106.9 496.7,106.0 496.4,105.0 496.1,104.0 495.8,103.1 495.5,102.1 495.1,101.1 494.8,100.2 494.5,99.2 494.2,98.2 493.9,97.3 493.6,96.3 493.3,95.4 493.0,94.4 492.7,93.4 492.4,92.5 492.1,91.5 491.8,90.5 491.5,89.6 491.2,88.6 490.9,87.6 490.6,86.6 490.3,85.7 490.0,84.7 489.7,83.7 489.4,82.8 489.1,81.8 488.8,80.8 488.5,79.9 488.3,78.9 488.0,77.9 487.7,77.0 487.4,76.0 487.1,75.0 486.8,74.0 486.5,73.1 486.3,72.1 486.0,71.1 485.7,70.2 485.4,69.2 485.1,68.2 484.9,67.3 484.6,66.3 484.3,65.3 484.0,64.3 483.8,63.4 483.5,62.4 483.2,61.4 482.9,60.5 482.7,59.5 482.4,58.5 482.1,57.6 481.9,56.6 481.6,55.6 481.3,54.7 481.1,53.7 480.8,52.7 480.5,51.7 480.3,50.8 480.0,49.8 479.7,48.8 479.5,47.9 479.2,46.9 479.0,45.9 478.7,45.0 478.5,44.0 478.2,43.1 477.9,42.1 477.7,41.1 477.4,40.2 477.2,39.2 476.9,38.2 476.7,37.3 476.4,36.3 476.2,35.3 475.9,34.4 475.7,33.4 475.4,32.5 475.2,31.5 474.9,30.5 474.7,29.6 474.4,28.6 474.2,27.7 473.9,26.7 473.7,25.8 473.5,24.8 473.2,23.8 473.0,22.9 472.7,21.9 472.5,21.0 472.3,20.0 472.0,19.1 471.8,18.1 471.5,17.2 471.3,16.2 471.1,15.3 470.8,14.3 470.6,13.4 470.4,12.4 470.1,11.5 469.9,10.5 469.7,9.6 469.4,8.7 469.2,7.7 469.0,6.8 468.7,5.8 468.5,4.9 468.3,4.0 468.1,3.0 467.8,2.1 467.6,1.1 467.4,0.2"/>
<polygon fill="#ff0000" points="533.9,0.2 534.0,1.2 534.2,2.2 534.4,3.1 534.6,4.1 534.8,5.1 534.9,6.0 535.1,7.0 535.3,8.0 535.5,8.9 535.7,9.9 535.8,10.9 536.0,11.9 536.2,12.8 536.4,13.8 536.6,14.8 536.8,15.8 536.9,16.7 537.1,17.7 537.3,18.7 537.5,19.7 537.7,20.6 537.9,21.6 538.1,22.6 538.2,23.6 538.4,24.5 538.6,25.5 538.8,26.5 539.0,27.5 539.2,28.5 539.4,29.4 539.6,30.4 539.7,31.4 539.9,32.4 540.1,33.4 540.3,34.3 540.5,35.3 540.7,36.3 540.9,37.3 541.1,38.3 541.3,39.2 541.5,40.2 541.7,41.2 541.9,42.2 542.1,43.2 542.2,44.1 542.4,45.1 542.6,46.1 542.8,47.1 543.0,48.1 543.2,49.1 543.4,50.0 543.6,51.0 543.8,52.0 544.0,53.0 544.2,54.0 544.4,55.0 544.6,55.9 544.8,56.9 545.0,57.9 545.2,58.9 545.4,59.9 545.6,60.9 545.8,61.8 546.0,62.8 546.2,63.8 546.4,64.8 546.6,65.8 546.9,66.8 547.1,67.8 547.3,68.7 547.5,69.7 547.7,70.7 547.9,71.7 548.1,72.7 548.3,73.7 548.5,74.6 548.7,75.6 548.9,76.6 549.1,77.6 549.4,78.6 549.6,79.6 549.8,80.5 550.0,81.5 550.2,82.5 550.4,83.5 550.6,84.5 550.9,85.5 551.1,86.4 551.3,87.4 551.5,88.4 551.7,89.4 551.9,90.4 552.2,91.3 552.4,92.3 552.6,93.3 552.8,94.3 553.0,95.3 553.3,96.3 553.5,97.2 553.7,98.2 553.9,99.2 554.2,100.2 554.4,101.2 554.6,102.1 554.8,103.1 555.1,104.1 555.3,105.1 555.5,106.0 555.8,107.0 556.0,108.0 556.2,109.0 556.5,110.0 556.7,110.9 556.9,111.9 557.2,112.9 557.4,113.9 557.6,114.8 557.9,115.8 558.1,116.8 558.3,117.8 558.6,118.7 558.8,119.7 559.0,120.7 559.3,121.6 559.5,122.6 559.8,123.6 560.0,124.6 560.3,125.5 560.5,126.5 560.7,127.5 561.0,128.4 561.2,129.4 561.5,130.4 561.7,131.3 562.0,132.3 562.2,133.3 562.5,134.3 562.7,135.2 563.0,136.2 563.2,137.1 563.5,138.1 563.8,139.1 564.0,140.0 564.3,141.0 564.5,142.0 564.8,142.9 565.1,143.9 565.3,144.8 565.6,145.8 565.9,146.8 566.1,147.7 566.4,148.7 566.7,149.6 567.0,150.6 567.2,151.6 567.5,152.5 567.8,153.5 568.1,154.4 568.4,155.4 568.6,156.3 568.9,157.3 569.2,158.2 569.5,159.2 569.8,160.1 570.1,161.1 570.4,162.0 570.7,163.0 571.0,163.9 571.3,164.9 571.6,165.8 571.9,166.8 572.2,167.7 572.5,168.6 572.9,169.6 573.2,170.5 573.5,171.5 573.8,172.4 574.1,173.4 574.5,174.3 574.8,175.2 575.1,176.2 575.5,177.1 575.8,178.0 576.1,179.0 576.5,179.9 576.8,180.8 577.2,181.8 577.5,182.7 577.9,183.6 578.2,184.6 578.6,185.5 579.0,186.4 579.3,187.3 579.7,188.3 580.1,189.2 580.4,190.1 580.8,191.0 581.2,192.0 581.6,192.9 582.0,193.8 582.3,194.7 582.7,195.6 583.1,196.6 583.5,197.5 583.9,198.4 584.4,199.3 584.8,200.2 585.2,201.1 585.6,202.0 586.0,202.9 586.5,203.8 586.9,204.7 587.3,205.7 587.8,206.6 588.2,207.5 588.6,208.4 589.1,209.3 589.5,210.2 590.0,211.1 590.4,212.0 590.9,212.9 591.4,213.8 591.8,214.7 592.3,215.5 592.8,216.4 593.2,217.3 593.7,218.2 594.2,219.1 594.7,220.0 595.2,220.9 595.7,221.8 596.2,222.7 596.7,223.5 597.2,224.4 597.7,225.3 598.3,226.2 598.8,227.1 599.3,227.9 599.9,228.8 600.4,229.7 600.9,230.5 601.5,231.4 602.0,232.3 602.6,233.1 603.2,234.0 603.7,234.8 604.3,235.7 604.9,236.5 605.5,237.3 606.0,238.2 606.6,239.0 607.2,239.8 607.8,240.6 608.5,241.5 609.1,242.3 609.7,243.1 610.3,243.9 610.9,244.6 611.6,245.4 612.2,246.2 612.9,247.0 613.5,247.7 614.2,248.5 614.9,249.2 615.5,250.0 616.2,250.7 616.9,251.5 617.6,252.2 618.3,252.9 619.0,253.6 619.7,254.3 620.4,255.0 621.1,255.6 621.8,256.3 622.6,257.0 623.3,257.6 624.1,258.3 624.8,258.9 625.6,259.5 626.3,260.1 627.1,260.7 627.9,261.3 628.7,261.9 629.5,262.5 630.3,263.0 631.1,263.6 631.9,264.1 632.7,264.6 633.6,265.1 634.4,265.6 635.2,266.1 636.1,266.6 637.0,267.0 637.8,267.5 638.7,267.9 639.6,268.4 640.5,268.8 641.4,269.2 642.3,269.5 643.2,269.9 644.1,270.3 645.0,270.6 646.0,270.9 646.9,271.2 647.9,271.5 648.8,271.8 649.8,272.1 650.8,272.3 651.8,272.6 652.7,272.8 653.8,273.0 654.8,273.2 655.8,273.3 656.8,273.5 657.8,273.6 658.9,273.7 659.8,273.8 659.9,273.1 659.0,273.0 657.9,272.9 656.9,272.7 655.9,272.6 654.9,272.4 653.9,272.2 652.9,272.0 651.9,271.8 651.0,271.6 650.0,271.3 649.0,271.1 648.1,270.8 647.1,270.5 646.2,270.2 645.3,269.9 644.4,269.6 643.5,269.2 642.6,268.8 641.7,268.5 640.8,268.1 639.9,267.7 639.0,267.3 638.2,266.8 637.3,266.4 636.5,265.9 635.6,265.5 634.8,265.0 634.0,264.5 633.1,264.0 632.3,263.5 631.5,262.9 630.7,262.4 629.9,261.8 629.1,261.3 628.3,260.7 627.6,260.1 626.8,259.5 626.0,258.9 625.3,258.3 624.5,257.7 623.8,257.1 623.1,256.4 622.3,255.8 621.6,255.1 620.9,254.4 620.2,253.7 619.5,253.1 618.8,252.4 618.1,251.7 617.4,250.9 616.7,250.2 616.1,249.5 615.4,248.7 614.7,248.0 614.1,247.3 613.4,246.5 612.8,245.7 612.2,245.0 611.5,244.2 610.9,243.4 610.3,242.6 609.7,241.8 609.1,241.0 608.4,240.2 607.8,239.4 607.2,238.6 606.7,237.7 606.1,236.9 605.5,236.1 604.9,235.2 604.3,234.4 603.8,233.6 603.2,232.7 602.7,231.9 602.1,231.0 601.6,230.1 601.0,229.3 600.5,228.4 600.0,227.5 599.4,226.7 598.9,225.8 598.4,224.9 597.9,224.0 597.4,223.2 596.9,222.3 596.4,221.4 595.9,220.5 595.4,219.6 594.9,218.8 594.4,217.9 593.9,217.0 593.4,216.1 593.0,215.2 592.5,214.3 592.0,213.4 591.6,212.5 591.1,211.6 590.6,210.7 590.2,209.8 589.7,208.9 589.3,208.0 588.9,207.1 588.4,206.2 588.0,205.3 587.6,204.4 587.2,203.5 586.7,202.6 586.3,201.7 585.9,200.8 585.5,199.9 585.1,199.0 584.7,198.0 584.3,197.1 583.9,196.2 583.5,195.3 583.1,194.4 582.7,193.5 582.4,192.6 582.0,191.6 581.6,190.7 581.2,189.8 580.8,188.9 580.5,188.0 580.1,187.0 579.7,186.1 579.4,185.2 579.0,184.3 578.7,183.3 578.3,182.4 578.0,181.5 577.6,180.5 577.3,179.6 576.9,178.7 576.6,177.7 576.3,176.8 575.9,175.9 575.6,174.9 575.3,174.0 574.9,173.1 574.6,172.1 574.3,171.2 574.0,170.3 573.7,169.3 573.3,168.4 573.0,167.4 572.7,166.5 572.4,165.6 572.1,164.6 571.8,163.7 571.5,162.7 571.2,161.8 570.9,160.8 570.6,159.9 570.3,158.9 570.0,158.0 569.7,157.0 569.5,156.1 569.2,155.1 568.9,154.2 568.6,153.2 568.3,152.3 568.1,151.3 567.8,150.4 567.5,149.4 567.2,148.4 567.0,147.5 566.7,146.5 566.4,145.6 566.1,144.6 565.9,143.7 565.6,142.7 565.4,141.7 565.1,140.8 564.8,139.8 564.6,138.9 564.3,137.9 564.1,136.9 563.8,136.0 563.6,135.0 563.3,134.0 563.1,133.1 562.8,132.1 562.6,131.1 562.3,130.2 562.1,129.2 561.8,128.2 561.6,127.3 561.3,126.3 561.1,125.3 560.8,124.4 560.6,123.4 560.4,122.4 560.1,121.4 559.9,120.5 559.6,119.5 559.4,118.5 559.2,117.6 558.9,116.6 558.7,115.6 558.4,114.6 558.2,113.7 558.0,112.7 557.7,111.7 557.5,110.7 557.3,109.8 557.0,108.8 556.8,107.8 556.6,106.8 556.4,105.9 556.1,104.9 555.9,103.9 555.7,102.9 555.4,101.9 555.2,101.0 555.0,100.0 554.8,99.0 554.5,98.0 554.3,97.0 554.1,96.1 553.9,95.1 553.7,94.1 553.4,93.1 553.2,92.1 553.0,91.2 552.8,90.2 552.6,89.2 552.3,88.2 552.1,87.2 551.9,86.3 551.7,85.3 551.5,84.3 551.3,83.3 551.0,82.3 550.8,81.3 550.6,80.4 550.4,79.4 550.2,78.4 550.0,77.4 549.8,76.4 549.6,75.4 549.3,74.5 549.1,73.5 548.9,72.5 548.7,71.5 548.5,70.5 548.3,69.5 548.1,68.6 547.9,67.6 547.7,66.6 547.5,65.6 547.3,64.6 547.1,63.6 546.9,62.7 546.7,61.7 546.5,60.7 546.3,59.7 546.1,58.7 545.9,57.7 545.7,56.8 545.5,55.8 545.3,54.8 545.1,53.8 544.9,52.8 544.7,51.8 544.5,50.9 544.3,49.9 544.1,48.9 543.9,47.9 543.7,46.9 543.5,45.9 543.3,45.0 543.1,44.0 542.9,43.0 542.7,42.0 542.5,41.0 542.3,40.1 542.1,39.1 541.9,38.1 541.7,37.1 541.5,36.1 541.3,35.1 541.2,34.2 541.0,33.2 540.8,32.2 540.6,31.2 540.4,30.3 540.2,29.3 540.0,28.3 539.8,27.3 539.6,26.3 539.5,25.4 539.3,24.4 539.1,23.4 538.9,22.4 538.7,21.5 538.5,20.5 538.3,19.5 538.1,18.5 538.0,17.5 537.8,16.6 537.6,15.6 537.4,14.6 537.2,13.7 537.0,12.7 536.9,11.7 536.7,10.7 536.5,9.8 536.3,8.8 536.1,7.8 536.0,6.8 535.8,5.9 535.6,4.9 535.4,3.9 535.2,3.0 535.0,2.0 534.9,1.0 534.7,0.1"/>
</g>
<rect x="78.20" y="16.50" width="259.10" height="256.70" fill="none" stroke="#000" stroke-width="0.95"/>
<rect x="424.65" y="16.50" width="258.95" height="256.70" fill="none" stroke="#000" stroke-width="0.95"/>
<g fill="#000">
<text x="77.9" y="287.8" font-size="15.0" text-anchor="middle" textLength="42.8" lengthAdjust="spacingAndGlyphs" >0.0001</text>
<text x="142.7" y="287.8" font-size="15.0" text-anchor="middle" textLength="35.1" lengthAdjust="spacingAndGlyphs" >0.001</text>
<text x="207.4" y="287.8" font-size="15.0" text-anchor="middle" textLength="27.4" lengthAdjust="spacingAndGlyphs" >0.01</text>
<text x="272.2" y="287.8" font-size="15.0" text-anchor="middle" textLength="19.7" lengthAdjust="spacingAndGlyphs" >0.1</text>
<text x="337.0" y="287.8" font-size="15.0" text-anchor="middle" textLength="7.7" lengthAdjust="spacingAndGlyphs" >1</text>
<text x="71.3" y="276.2" font-size="15.0" text-anchor="end" textLength="7.7" lengthAdjust="spacingAndGlyphs" >0</text>
<text x="71.3" y="190.6" font-size="15.0" text-anchor="end" textLength="19.7" lengthAdjust="spacingAndGlyphs" >0.4</text>
<text x="71.3" y="105.1" font-size="15.0" text-anchor="end" textLength="19.7" lengthAdjust="spacingAndGlyphs" >0.8</text>
<text x="71.3" y="19.5" font-size="15.0" text-anchor="end" textLength="19.7" lengthAdjust="spacingAndGlyphs" >1.2</text>
<text x="424.3" y="287.8" font-size="15.0" text-anchor="middle" textLength="42.8" lengthAdjust="spacingAndGlyphs" >0.0001</text>
<text x="489.1" y="287.8" font-size="15.0" text-anchor="middle" textLength="35.1" lengthAdjust="spacingAndGlyphs" >0.001</text>
<text x="553.8" y="287.8" font-size="15.0" text-anchor="middle" textLength="27.4" lengthAdjust="spacingAndGlyphs" >0.01</text>
<text x="618.6" y="287.8" font-size="15.0" text-anchor="middle" textLength="19.7" lengthAdjust="spacingAndGlyphs" >0.1</text>
<text x="683.3" y="287.8" font-size="15.0" text-anchor="middle" textLength="7.7" lengthAdjust="spacingAndGlyphs" >1</text>
<text x="417.8" y="276.2" font-size="15.0" text-anchor="end" textLength="7.7" lengthAdjust="spacingAndGlyphs" >0</text>
<text x="417.8" y="190.6" font-size="15.0" text-anchor="end" textLength="19.7" lengthAdjust="spacingAndGlyphs" >0.4</text>
<text x="417.8" y="105.1" font-size="15.0" text-anchor="end" textLength="19.7" lengthAdjust="spacingAndGlyphs" >0.8</text>
<text x="417.8" y="19.5" font-size="15.0" text-anchor="end" textLength="19.7" lengthAdjust="spacingAndGlyphs" >1.2</text>
<text x="78.2" y="12.4" font-size="13.3" text-anchor="start" textLength="81.2" lengthAdjust="spacingAndGlyphs" >MSHT20NLO,</text>
<text x="163.6" y="12.6" font-size="13.6" text-anchor="start" textLength="9.6" lengthAdjust="spacingAndGlyphs" font-style="italic">Q</text>
<text x="173.8" y="7.4" font-size="9.5" text-anchor="start" >2</text>
<text x="183.9" y="13.9" font-size="15.0" text-anchor="start" textLength="9.9" lengthAdjust="spacingAndGlyphs" >=</text>
<text x="197.0" y="12.6" font-size="13.6" text-anchor="start" textLength="13.2" lengthAdjust="spacingAndGlyphs" >10</text>
<text x="212.0" y="12.6" font-size="13.6" text-anchor="start" textLength="24.2" lengthAdjust="spacingAndGlyphs" >GeV</text>
<text x="237.4" y="7.4" font-size="9.5" text-anchor="start" >2</text>
<text x="425.2" y="12.4" font-size="13.3" text-anchor="start" textLength="81.2" lengthAdjust="spacingAndGlyphs" >MSHT20NLO,</text>
<text x="510.6" y="12.6" font-size="13.6" text-anchor="start" textLength="9.6" lengthAdjust="spacingAndGlyphs" font-style="italic">Q</text>
<text x="520.8" y="7.4" font-size="9.5" text-anchor="start" >2</text>
<text x="530.9" y="13.9" font-size="15.0" text-anchor="start" textLength="9.9" lengthAdjust="spacingAndGlyphs" >=</text>
<text x="544.0" y="12.6" font-size="13.6" text-anchor="start" textLength="13.2" lengthAdjust="spacingAndGlyphs" >10</text>
<text x="557.4" y="7.4" font-size="9.5" text-anchor="start" >4</text>
<text x="565.0" y="12.6" font-size="13.6" text-anchor="start" textLength="24.2" lengthAdjust="spacingAndGlyphs" >GeV</text>
<text x="590.4" y="7.4" font-size="9.5" text-anchor="start" >2</text>
<text x="-0.4" y="53.0" font-size="13.5" text-anchor="start" font-style="italic">x</text>
<text x="8.6" y="53.0" font-size="13.5" text-anchor="start" font-style="italic">f</text>
<text x="14.6" y="53.4" font-size="13.5" text-anchor="start" >(</text>
<text x="19.8" y="53.0" font-size="13.5" text-anchor="start" font-style="italic">x</text>
<text x="26.4" y="53.0" font-size="13.5" text-anchor="start" >,</text>
<text x="32.4" y="53.0" font-size="13.5" text-anchor="start" font-style="italic">Q</text>
<text x="43.2" y="48.2" font-size="9.2" text-anchor="start" >2</text>
<text x="48.6" y="53.4" font-size="13.5" text-anchor="start" >)</text>
<text x="346.4" y="53.0" font-size="13.5" text-anchor="start" font-style="italic">x</text>
<text x="355.4" y="53.0" font-size="13.5" text-anchor="start" font-style="italic">f</text>
<text x="361.4" y="53.4" font-size="13.5" text-anchor="start" >(</text>
<text x="366.6" y="53.0" font-size="13.5" text-anchor="start" font-style="italic">x</text>
<text x="373.2" y="53.0" font-size="13.5" text-anchor="start" >,</text>
<text x="379.2" y="53.0" font-size="13.5" text-anchor="start" font-style="italic">Q</text>
<text x="390.0" y="48.2" font-size="9.2" text-anchor="start" >2</text>
<text x="395.4" y="53.4" font-size="13.5" text-anchor="start" >)</text>
</g>
<g fill="#ff0000"><text x="188.8" y="142.6" font-size="13.5" text-anchor="start" font-weight="bold">g</text><text transform="translate(196.7,144.9) scale(1.6,1.3)" font-size="13">/</text><text x="202.3" y="142.6" font-size="12.7" text-anchor="start" textLength="13.6" lengthAdjust="spacingAndGlyphs" >10</text></g>
<g fill="#0000ff">
<text x="285.6" y="137.8" font-size="13.5" text-anchor="start" font-weight="bold">u</text>
<text x="293.3" y="139.2" font-size="10.5" text-anchor="start" font-style="italic">V</text>
</g>
<g fill="#00ff00">
<text x="285.0" y="207.4" font-size="13.5" text-anchor="start" font-weight="bold">d</text>
<text x="292.7" y="208.8" font-size="10.5" text-anchor="start" font-style="italic">V</text>
</g>
<g fill="#ff00ff">
<text x="129.6" y="232.7" font-size="13.5" text-anchor="start" font-weight="bold">c</text>
</g>
<g fill="#59d4d4">
<text x="188.9" y="230.6" font-size="13.5" text-anchor="start" font-weight="bold">s</text>
</g>
<g fill="#0000cd">
<text x="247.5" y="246.6" font-size="13.5" text-anchor="start" font-weight="bold">u</text>
<rect x="247.2" y="239.2" width="7.8" height="0.8"/>
</g>
<g fill="#32cd32">
<text x="285.2" y="247.9" font-size="13.5" text-anchor="start" font-weight="bold">d</text>
<rect x="284.9" y="237.1" width="7.8" height="0.8"/>
</g>
<g fill="#ff0000"><text x="564.8" y="123.2" font-size="13.5" text-anchor="start" font-weight="bold">g</text><text transform="translate(572.7,125.5) scale(1.6,1.3)" font-size="13">/</text><text x="578.3" y="123.2" font-size="12.7" text-anchor="start" textLength="13.6" lengthAdjust="spacingAndGlyphs" >10</text></g>
<g fill="#0000ff">
<text x="619.8" y="158.3" font-size="13.5" text-anchor="start" font-weight="bold">u</text>
<text x="627.5" y="159.7" font-size="10.5" text-anchor="start" font-style="italic">V</text>
</g>
<g fill="#00ff00">
<text x="619.1" y="217.9" font-size="13.5" text-anchor="start" font-weight="bold">d</text>
<text x="626.8" y="219.3" font-size="10.5" text-anchor="start" font-style="italic">V</text>
</g>
<g fill="#ff00ff">
<text x="519.0" y="148.1" font-size="13.5" text-anchor="start" font-weight="bold">c</text>
</g>
<g fill="#00ffff">
<text x="510.3" y="173.7" font-size="13.5" text-anchor="start" font-weight="bold">b</text>
</g>
<g fill="#59d4d4">
<text x="557.8" y="199.3" font-size="13.5" text-anchor="start" font-weight="bold">s</text>
</g>
<g fill="#0000cd">
<text x="594.5" y="246.6" font-size="13.5" text-anchor="start" font-weight="bold">u</text>
<rect x="594.2" y="239.2" width="7.8" height="0.8"/>
</g>
<g fill="#32cd32">
<text x="622.9" y="248.5" font-size="13.5" text-anchor="start" font-weight="bold">d</text>
<rect x="622.6" y="237.7" width="7.8" height="0.8"/>
</g>
</svg>
</body></html>
